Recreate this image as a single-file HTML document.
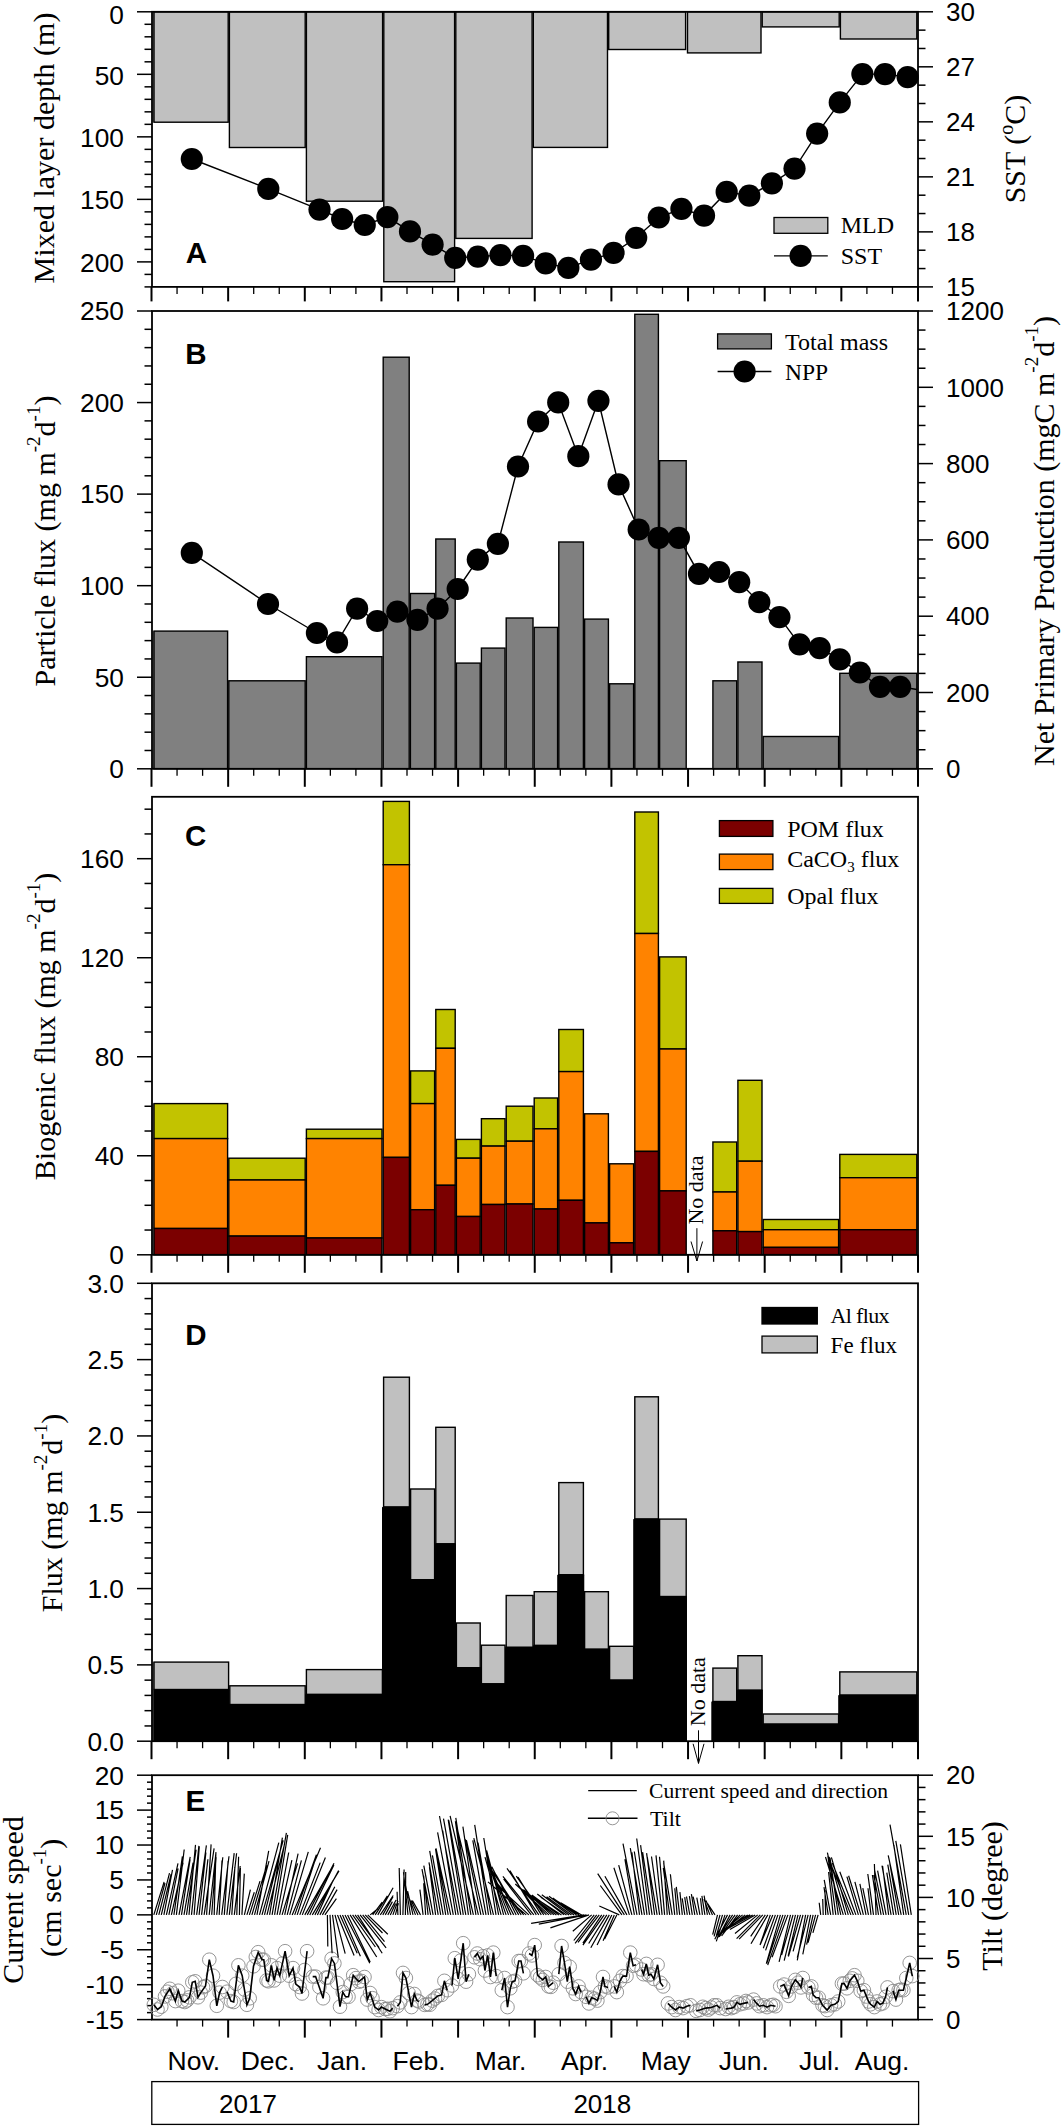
<!DOCTYPE html>
<html><head><meta charset="utf-8"><title>Figure</title>
<style>html,body{margin:0;padding:0;background:#fff;} svg{display:block;}</style>
</head><body>
<svg width="1063" height="2128" viewBox="0 0 1063 2128">
<rect x="0" y="0" width="1063" height="2128" fill="#fff"/>
<rect x="152.3" y="11.80" width="2.2" height="110.40" fill="#808080"/>
<rect x="154.00" y="11.80" width="74.20" height="110.40" fill="#c0c0c0" stroke="#000" stroke-width="1.4"/>
<rect x="229.40" y="11.80" width="75.80" height="135.70" fill="#c0c0c0" stroke="#000" stroke-width="1.4"/>
<rect x="306.40" y="11.80" width="76.20" height="189.40" fill="#c0c0c0" stroke="#000" stroke-width="1.4"/>
<rect x="383.80" y="11.80" width="70.80" height="269.90" fill="#c0c0c0" stroke="#000" stroke-width="1.4"/>
<rect x="455.80" y="11.80" width="76.30" height="226.60" fill="#c0c0c0" stroke="#000" stroke-width="1.4"/>
<rect x="533.30" y="11.80" width="74.20" height="135.60" fill="#c0c0c0" stroke="#000" stroke-width="1.4"/>
<rect x="608.70" y="11.80" width="76.90" height="37.70" fill="#c0c0c0" stroke="#000" stroke-width="1.4"/>
<rect x="687.50" y="11.80" width="73.50" height="41.10" fill="#c0c0c0" stroke="#000" stroke-width="1.4"/>
<rect x="762.20" y="11.80" width="77.00" height="15.10" fill="#c0c0c0" stroke="#000" stroke-width="1.4"/>
<rect x="840.40" y="11.80" width="76.40" height="27.20" fill="#c0c0c0" stroke="#000" stroke-width="1.4"/>
<polyline points="191.8,159.0 268.3,188.9 319.5,209.6 342.1,219.0 364.7,225.0 387.4,217.1 410.0,231.4 432.6,244.6 455.2,257.8 477.8,256.6 500.5,255.1 523.1,255.9 545.7,263.4 568.3,267.9 590.9,259.6 613.6,252.9 636.2,237.8 658.8,217.5 681.4,208.8 704.0,215.6 726.7,191.9 749.3,195.7 771.9,183.3 794.5,168.6 817.1,133.6 839.8,102.4 862.4,74.1 885.0,74.1 907.6,77.1" fill="none" stroke="#000" stroke-width="1.4"/>
<circle cx="191.80" cy="159.00" r="11.1" fill="#000"/>
<circle cx="268.30" cy="188.90" r="11.1" fill="#000"/>
<circle cx="319.50" cy="209.60" r="11.1" fill="#000"/>
<circle cx="342.12" cy="219.00" r="11.1" fill="#000"/>
<circle cx="364.74" cy="225.00" r="11.1" fill="#000"/>
<circle cx="387.36" cy="217.10" r="11.1" fill="#000"/>
<circle cx="409.98" cy="231.40" r="11.1" fill="#000"/>
<circle cx="432.60" cy="244.60" r="11.1" fill="#000"/>
<circle cx="455.22" cy="257.80" r="11.1" fill="#000"/>
<circle cx="477.84" cy="256.60" r="11.1" fill="#000"/>
<circle cx="500.46" cy="255.10" r="11.1" fill="#000"/>
<circle cx="523.08" cy="255.90" r="11.1" fill="#000"/>
<circle cx="545.70" cy="263.40" r="11.1" fill="#000"/>
<circle cx="568.32" cy="267.90" r="11.1" fill="#000"/>
<circle cx="590.94" cy="259.60" r="11.1" fill="#000"/>
<circle cx="613.56" cy="252.90" r="11.1" fill="#000"/>
<circle cx="636.18" cy="237.80" r="11.1" fill="#000"/>
<circle cx="658.80" cy="217.50" r="11.1" fill="#000"/>
<circle cx="681.42" cy="208.80" r="11.1" fill="#000"/>
<circle cx="704.04" cy="215.60" r="11.1" fill="#000"/>
<circle cx="726.66" cy="191.90" r="11.1" fill="#000"/>
<circle cx="749.28" cy="195.70" r="11.1" fill="#000"/>
<circle cx="771.90" cy="183.30" r="11.1" fill="#000"/>
<circle cx="794.52" cy="168.60" r="11.1" fill="#000"/>
<circle cx="817.14" cy="133.60" r="11.1" fill="#000"/>
<circle cx="839.76" cy="102.40" r="11.1" fill="#000"/>
<circle cx="862.38" cy="74.10" r="11.1" fill="#000"/>
<circle cx="885.00" cy="74.10" r="11.1" fill="#000"/>
<circle cx="907.62" cy="77.10" r="11.1" fill="#000"/>
<rect x="152.00" y="11.80" width="766.00" height="275.10" fill="none" stroke="#000" stroke-width="1.8"/>
<line x1="151.50" y1="286.90" x2="151.50" y2="301.40" stroke="#000" stroke-width="2.0" />
<line x1="177.05" y1="286.90" x2="177.05" y2="293.90" stroke="#000" stroke-width="1.3" />
<line x1="202.60" y1="286.90" x2="202.60" y2="293.90" stroke="#000" stroke-width="1.3" />
<line x1="228.15" y1="286.90" x2="228.15" y2="301.40" stroke="#000" stroke-width="2.0" />
<line x1="253.70" y1="286.90" x2="253.70" y2="293.90" stroke="#000" stroke-width="1.3" />
<line x1="279.25" y1="286.90" x2="279.25" y2="293.90" stroke="#000" stroke-width="1.3" />
<line x1="304.80" y1="286.90" x2="304.80" y2="301.40" stroke="#000" stroke-width="2.0" />
<line x1="330.35" y1="286.90" x2="330.35" y2="293.90" stroke="#000" stroke-width="1.3" />
<line x1="355.90" y1="286.90" x2="355.90" y2="293.90" stroke="#000" stroke-width="1.3" />
<line x1="381.45" y1="286.90" x2="381.45" y2="301.40" stroke="#000" stroke-width="2.0" />
<line x1="407.00" y1="286.90" x2="407.00" y2="293.90" stroke="#000" stroke-width="1.3" />
<line x1="432.55" y1="286.90" x2="432.55" y2="293.90" stroke="#000" stroke-width="1.3" />
<line x1="458.10" y1="286.90" x2="458.10" y2="301.40" stroke="#000" stroke-width="2.0" />
<line x1="483.65" y1="286.90" x2="483.65" y2="293.90" stroke="#000" stroke-width="1.3" />
<line x1="509.20" y1="286.90" x2="509.20" y2="293.90" stroke="#000" stroke-width="1.3" />
<line x1="534.75" y1="286.90" x2="534.75" y2="301.40" stroke="#000" stroke-width="2.0" />
<line x1="560.30" y1="286.90" x2="560.30" y2="293.90" stroke="#000" stroke-width="1.3" />
<line x1="585.85" y1="286.90" x2="585.85" y2="293.90" stroke="#000" stroke-width="1.3" />
<line x1="611.40" y1="286.90" x2="611.40" y2="301.40" stroke="#000" stroke-width="2.0" />
<line x1="636.95" y1="286.90" x2="636.95" y2="293.90" stroke="#000" stroke-width="1.3" />
<line x1="662.50" y1="286.90" x2="662.50" y2="293.90" stroke="#000" stroke-width="1.3" />
<line x1="688.05" y1="286.90" x2="688.05" y2="301.40" stroke="#000" stroke-width="2.0" />
<line x1="713.60" y1="286.90" x2="713.60" y2="293.90" stroke="#000" stroke-width="1.3" />
<line x1="739.15" y1="286.90" x2="739.15" y2="293.90" stroke="#000" stroke-width="1.3" />
<line x1="764.70" y1="286.90" x2="764.70" y2="301.40" stroke="#000" stroke-width="2.0" />
<line x1="790.25" y1="286.90" x2="790.25" y2="293.90" stroke="#000" stroke-width="1.3" />
<line x1="815.80" y1="286.90" x2="815.80" y2="293.90" stroke="#000" stroke-width="1.3" />
<line x1="841.35" y1="286.90" x2="841.35" y2="301.40" stroke="#000" stroke-width="2.0" />
<line x1="866.90" y1="286.90" x2="866.90" y2="293.90" stroke="#000" stroke-width="1.3" />
<line x1="892.45" y1="286.90" x2="892.45" y2="293.90" stroke="#000" stroke-width="1.3" />
<line x1="918.00" y1="286.90" x2="918.00" y2="301.40" stroke="#000" stroke-width="2.0" />
<line x1="137.00" y1="11.80" x2="152.00" y2="11.80" stroke="#000" stroke-width="1.5" />
<text x="124.00" y="24.41" font-family='"Liberation Sans", sans-serif' font-size="26.3" text-anchor="end" font-weight="normal" >0</text>
<line x1="144.50" y1="24.30" x2="152.00" y2="24.30" stroke="#000" stroke-width="1.5" />
<line x1="144.50" y1="36.81" x2="152.00" y2="36.81" stroke="#000" stroke-width="1.5" />
<line x1="144.50" y1="49.31" x2="152.00" y2="49.31" stroke="#000" stroke-width="1.5" />
<line x1="144.50" y1="61.82" x2="152.00" y2="61.82" stroke="#000" stroke-width="1.5" />
<line x1="137.00" y1="74.32" x2="152.00" y2="74.32" stroke="#000" stroke-width="1.5" />
<text x="124.00" y="85.13" font-family='"Liberation Sans", sans-serif' font-size="26.3" text-anchor="end" font-weight="normal" >50</text>
<line x1="144.50" y1="86.83" x2="152.00" y2="86.83" stroke="#000" stroke-width="1.5" />
<line x1="144.50" y1="99.33" x2="152.00" y2="99.33" stroke="#000" stroke-width="1.5" />
<line x1="144.50" y1="111.84" x2="152.00" y2="111.84" stroke="#000" stroke-width="1.5" />
<line x1="144.50" y1="124.34" x2="152.00" y2="124.34" stroke="#000" stroke-width="1.5" />
<line x1="137.00" y1="136.85" x2="152.00" y2="136.85" stroke="#000" stroke-width="1.5" />
<text x="124.00" y="146.96" font-family='"Liberation Sans", sans-serif' font-size="26.3" text-anchor="end" font-weight="normal" >100</text>
<line x1="144.50" y1="149.35" x2="152.00" y2="149.35" stroke="#000" stroke-width="1.5" />
<line x1="144.50" y1="161.85" x2="152.00" y2="161.85" stroke="#000" stroke-width="1.5" />
<line x1="144.50" y1="174.36" x2="152.00" y2="174.36" stroke="#000" stroke-width="1.5" />
<line x1="144.50" y1="186.86" x2="152.00" y2="186.86" stroke="#000" stroke-width="1.5" />
<line x1="137.00" y1="199.37" x2="152.00" y2="199.37" stroke="#000" stroke-width="1.5" />
<text x="124.00" y="209.48" font-family='"Liberation Sans", sans-serif' font-size="26.3" text-anchor="end" font-weight="normal" >150</text>
<line x1="144.50" y1="211.87" x2="152.00" y2="211.87" stroke="#000" stroke-width="1.5" />
<line x1="144.50" y1="224.38" x2="152.00" y2="224.38" stroke="#000" stroke-width="1.5" />
<line x1="144.50" y1="236.88" x2="152.00" y2="236.88" stroke="#000" stroke-width="1.5" />
<line x1="144.50" y1="249.39" x2="152.00" y2="249.39" stroke="#000" stroke-width="1.5" />
<line x1="137.00" y1="261.89" x2="152.00" y2="261.89" stroke="#000" stroke-width="1.5" />
<text x="124.00" y="272.00" font-family='"Liberation Sans", sans-serif' font-size="26.3" text-anchor="end" font-weight="normal" >200</text>
<line x1="144.50" y1="274.40" x2="152.00" y2="274.40" stroke="#000" stroke-width="1.5" />
<line x1="144.50" y1="286.90" x2="152.00" y2="286.90" stroke="#000" stroke-width="1.5" />
<line x1="918.00" y1="286.90" x2="933.00" y2="286.90" stroke="#000" stroke-width="1.5" />
<text x="946.00" y="296.10" font-family='"Liberation Sans", sans-serif' font-size="26" text-anchor="start" font-weight="normal" >15</text>
<line x1="918.00" y1="268.56" x2="925.50" y2="268.56" stroke="#000" stroke-width="1.5" />
<line x1="918.00" y1="250.22" x2="925.50" y2="250.22" stroke="#000" stroke-width="1.5" />
<line x1="918.00" y1="231.88" x2="933.00" y2="231.88" stroke="#000" stroke-width="1.5" />
<text x="946.00" y="241.08" font-family='"Liberation Sans", sans-serif' font-size="26" text-anchor="start" font-weight="normal" >18</text>
<line x1="918.00" y1="213.54" x2="925.50" y2="213.54" stroke="#000" stroke-width="1.5" />
<line x1="918.00" y1="195.20" x2="925.50" y2="195.20" stroke="#000" stroke-width="1.5" />
<line x1="918.00" y1="176.86" x2="933.00" y2="176.86" stroke="#000" stroke-width="1.5" />
<text x="946.00" y="186.06" font-family='"Liberation Sans", sans-serif' font-size="26" text-anchor="start" font-weight="normal" >21</text>
<line x1="918.00" y1="158.52" x2="925.50" y2="158.52" stroke="#000" stroke-width="1.5" />
<line x1="918.00" y1="140.18" x2="925.50" y2="140.18" stroke="#000" stroke-width="1.5" />
<line x1="918.00" y1="121.84" x2="933.00" y2="121.84" stroke="#000" stroke-width="1.5" />
<text x="946.00" y="131.04" font-family='"Liberation Sans", sans-serif' font-size="26" text-anchor="start" font-weight="normal" >24</text>
<line x1="918.00" y1="103.50" x2="925.50" y2="103.50" stroke="#000" stroke-width="1.5" />
<line x1="918.00" y1="85.16" x2="925.50" y2="85.16" stroke="#000" stroke-width="1.5" />
<line x1="918.00" y1="66.82" x2="933.00" y2="66.82" stroke="#000" stroke-width="1.5" />
<text x="946.00" y="76.02" font-family='"Liberation Sans", sans-serif' font-size="26" text-anchor="start" font-weight="normal" >27</text>
<line x1="918.00" y1="48.48" x2="925.50" y2="48.48" stroke="#000" stroke-width="1.5" />
<line x1="918.00" y1="30.14" x2="925.50" y2="30.14" stroke="#000" stroke-width="1.5" />
<line x1="918.00" y1="11.80" x2="933.00" y2="11.80" stroke="#000" stroke-width="1.5" />
<text x="946.00" y="21.00" font-family='"Liberation Sans", sans-serif' font-size="26" text-anchor="start" font-weight="normal" >30</text>
<rect x="774.00" y="217.50" width="53.80" height="15.80" fill="#c0c0c0" stroke="#000" stroke-width="1.3"/>
<text x="840.70" y="233.30" font-family='"Liberation Serif", serif' font-size="24" text-anchor="start" font-weight="normal" >MLD</text>
<line x1="774.00" y1="255.90" x2="827.80" y2="255.90" stroke="#000" stroke-width="1.4" />
<circle cx="800.60" cy="255.90" r="11.1" fill="#000"/>
<text x="840.70" y="264.00" font-family='"Liberation Serif", serif' font-size="24" text-anchor="start" font-weight="normal" >SST</text>
<text x="185.80" y="263.10" font-family='"Liberation Sans", sans-serif' font-size="29.5" text-anchor="start" font-weight="bold" >A</text>
<text transform="translate(53.80,148.00) rotate(-90)" font-family='"Liberation Serif", serif' font-size="30" text-anchor="middle" >Mixed layer depth (m)</text>
<text transform="translate(1025.00,149.00) rotate(-90)" font-family='"Liberation Serif", serif' font-size="30" text-anchor="middle" >SST (<tspan dy="-12" font-size="20">o</tspan><tspan dy="12">C)</tspan></text>
<rect x="152.3" y="631.10" width="2.2" height="137.70" fill="#808080"/>
<rect x="154.00" y="631.10" width="73.60" height="137.70" fill="#808080" stroke="#000" stroke-width="1.4"/>
<rect x="228.80" y="680.80" width="76.40" height="88.00" fill="#808080" stroke="#000" stroke-width="1.4"/>
<rect x="306.40" y="656.70" width="75.60" height="112.10" fill="#808080" stroke="#000" stroke-width="1.4"/>
<rect x="383.20" y="357.20" width="26.00" height="411.60" fill="#808080" stroke="#000" stroke-width="1.4"/>
<rect x="410.40" y="593.50" width="24.20" height="175.30" fill="#808080" stroke="#000" stroke-width="1.4"/>
<rect x="435.80" y="539.00" width="19.40" height="229.80" fill="#808080" stroke="#000" stroke-width="1.4"/>
<rect x="456.40" y="663.10" width="23.80" height="105.70" fill="#808080" stroke="#000" stroke-width="1.4"/>
<rect x="481.40" y="648.10" width="23.60" height="120.70" fill="#808080" stroke="#000" stroke-width="1.4"/>
<rect x="506.20" y="618.00" width="26.80" height="150.80" fill="#808080" stroke="#000" stroke-width="1.4"/>
<rect x="534.20" y="627.40" width="23.40" height="141.40" fill="#808080" stroke="#000" stroke-width="1.4"/>
<rect x="558.80" y="542.00" width="24.60" height="226.80" fill="#808080" stroke="#000" stroke-width="1.4"/>
<rect x="584.60" y="619.10" width="23.80" height="149.70" fill="#808080" stroke="#000" stroke-width="1.4"/>
<rect x="609.60" y="683.80" width="24.00" height="85.00" fill="#808080" stroke="#000" stroke-width="1.4"/>
<rect x="634.80" y="314.30" width="23.60" height="454.50" fill="#808080" stroke="#000" stroke-width="1.4"/>
<rect x="659.60" y="460.70" width="26.60" height="308.10" fill="#808080" stroke="#000" stroke-width="1.4"/>
<rect x="712.90" y="680.80" width="23.80" height="88.00" fill="#808080" stroke="#000" stroke-width="1.4"/>
<rect x="737.90" y="662.00" width="24.10" height="106.80" fill="#808080" stroke="#000" stroke-width="1.4"/>
<rect x="763.20" y="736.50" width="75.40" height="32.30" fill="#808080" stroke="#000" stroke-width="1.4"/>
<rect x="839.80" y="673.30" width="77.00" height="95.50" fill="#808080" stroke="#000" stroke-width="1.4"/>
<polyline points="191.8,552.9 268.0,604.0 316.9,633.0 337.0,642.4 357.1,608.6 377.2,621.0 397.3,611.6 417.4,619.8 437.6,608.6 457.7,589.0 477.8,559.6 497.9,543.8 518.0,466.5 538.1,421.5 558.2,402.4 578.3,456.2 598.4,400.8 618.5,484.4 638.7,529.5 658.8,537.8 678.9,537.8 699.0,573.9 719.1,572.0 739.2,582.2 759.3,602.2 779.4,617.2 799.5,644.3 819.6,648.1 839.8,659.4 859.9,672.5 880.0,686.8 900.1,686.8 917,689.5" fill="none" stroke="#000" stroke-width="1.4"/>
<circle cx="191.80" cy="552.90" r="11.1" fill="#000"/>
<circle cx="268.00" cy="604.00" r="11.1" fill="#000"/>
<circle cx="316.90" cy="633.00" r="11.1" fill="#000"/>
<circle cx="337.01" cy="642.40" r="11.1" fill="#000"/>
<circle cx="357.12" cy="608.60" r="11.1" fill="#000"/>
<circle cx="377.23" cy="621.00" r="11.1" fill="#000"/>
<circle cx="397.34" cy="611.60" r="11.1" fill="#000"/>
<circle cx="417.45" cy="619.80" r="11.1" fill="#000"/>
<circle cx="437.56" cy="608.60" r="11.1" fill="#000"/>
<circle cx="457.67" cy="589.00" r="11.1" fill="#000"/>
<circle cx="477.78" cy="559.60" r="11.1" fill="#000"/>
<circle cx="497.89" cy="543.80" r="11.1" fill="#000"/>
<circle cx="518.00" cy="466.50" r="11.1" fill="#000"/>
<circle cx="538.11" cy="421.50" r="11.1" fill="#000"/>
<circle cx="558.22" cy="402.40" r="11.1" fill="#000"/>
<circle cx="578.33" cy="456.20" r="11.1" fill="#000"/>
<circle cx="598.44" cy="400.80" r="11.1" fill="#000"/>
<circle cx="618.55" cy="484.40" r="11.1" fill="#000"/>
<circle cx="638.66" cy="529.50" r="11.1" fill="#000"/>
<circle cx="658.77" cy="537.80" r="11.1" fill="#000"/>
<circle cx="678.88" cy="537.80" r="11.1" fill="#000"/>
<circle cx="698.99" cy="573.90" r="11.1" fill="#000"/>
<circle cx="719.10" cy="572.00" r="11.1" fill="#000"/>
<circle cx="739.21" cy="582.20" r="11.1" fill="#000"/>
<circle cx="759.32" cy="602.20" r="11.1" fill="#000"/>
<circle cx="779.43" cy="617.20" r="11.1" fill="#000"/>
<circle cx="799.54" cy="644.30" r="11.1" fill="#000"/>
<circle cx="819.65" cy="648.10" r="11.1" fill="#000"/>
<circle cx="839.76" cy="659.40" r="11.1" fill="#000"/>
<circle cx="859.87" cy="672.50" r="11.1" fill="#000"/>
<circle cx="879.98" cy="686.80" r="11.1" fill="#000"/>
<circle cx="900.09" cy="686.80" r="11.1" fill="#000"/>
<rect x="152.00" y="311.00" width="766.00" height="457.80" fill="none" stroke="#000" stroke-width="1.8"/>
<line x1="151.50" y1="768.80" x2="151.50" y2="786.80" stroke="#000" stroke-width="2.0" />
<line x1="177.05" y1="768.80" x2="177.05" y2="775.80" stroke="#000" stroke-width="1.3" />
<line x1="202.60" y1="768.80" x2="202.60" y2="775.80" stroke="#000" stroke-width="1.3" />
<line x1="228.15" y1="768.80" x2="228.15" y2="786.80" stroke="#000" stroke-width="2.0" />
<line x1="253.70" y1="768.80" x2="253.70" y2="775.80" stroke="#000" stroke-width="1.3" />
<line x1="279.25" y1="768.80" x2="279.25" y2="775.80" stroke="#000" stroke-width="1.3" />
<line x1="304.80" y1="768.80" x2="304.80" y2="786.80" stroke="#000" stroke-width="2.0" />
<line x1="330.35" y1="768.80" x2="330.35" y2="775.80" stroke="#000" stroke-width="1.3" />
<line x1="355.90" y1="768.80" x2="355.90" y2="775.80" stroke="#000" stroke-width="1.3" />
<line x1="381.45" y1="768.80" x2="381.45" y2="786.80" stroke="#000" stroke-width="2.0" />
<line x1="407.00" y1="768.80" x2="407.00" y2="775.80" stroke="#000" stroke-width="1.3" />
<line x1="432.55" y1="768.80" x2="432.55" y2="775.80" stroke="#000" stroke-width="1.3" />
<line x1="458.10" y1="768.80" x2="458.10" y2="786.80" stroke="#000" stroke-width="2.0" />
<line x1="483.65" y1="768.80" x2="483.65" y2="775.80" stroke="#000" stroke-width="1.3" />
<line x1="509.20" y1="768.80" x2="509.20" y2="775.80" stroke="#000" stroke-width="1.3" />
<line x1="534.75" y1="768.80" x2="534.75" y2="786.80" stroke="#000" stroke-width="2.0" />
<line x1="560.30" y1="768.80" x2="560.30" y2="775.80" stroke="#000" stroke-width="1.3" />
<line x1="585.85" y1="768.80" x2="585.85" y2="775.80" stroke="#000" stroke-width="1.3" />
<line x1="611.40" y1="768.80" x2="611.40" y2="786.80" stroke="#000" stroke-width="2.0" />
<line x1="636.95" y1="768.80" x2="636.95" y2="775.80" stroke="#000" stroke-width="1.3" />
<line x1="662.50" y1="768.80" x2="662.50" y2="775.80" stroke="#000" stroke-width="1.3" />
<line x1="688.05" y1="768.80" x2="688.05" y2="786.80" stroke="#000" stroke-width="2.0" />
<line x1="713.60" y1="768.80" x2="713.60" y2="775.80" stroke="#000" stroke-width="1.3" />
<line x1="739.15" y1="768.80" x2="739.15" y2="775.80" stroke="#000" stroke-width="1.3" />
<line x1="764.70" y1="768.80" x2="764.70" y2="786.80" stroke="#000" stroke-width="2.0" />
<line x1="790.25" y1="768.80" x2="790.25" y2="775.80" stroke="#000" stroke-width="1.3" />
<line x1="815.80" y1="768.80" x2="815.80" y2="775.80" stroke="#000" stroke-width="1.3" />
<line x1="841.35" y1="768.80" x2="841.35" y2="786.80" stroke="#000" stroke-width="2.0" />
<line x1="866.90" y1="768.80" x2="866.90" y2="775.80" stroke="#000" stroke-width="1.3" />
<line x1="892.45" y1="768.80" x2="892.45" y2="775.80" stroke="#000" stroke-width="1.3" />
<line x1="918.00" y1="768.80" x2="918.00" y2="786.80" stroke="#000" stroke-width="2.0" />
<line x1="137.00" y1="768.80" x2="152.00" y2="768.80" stroke="#000" stroke-width="1.5" />
<text x="124.00" y="778.11" font-family='"Liberation Sans", sans-serif' font-size="26.3" text-anchor="end" font-weight="normal" >0</text>
<line x1="144.50" y1="750.49" x2="152.00" y2="750.49" stroke="#000" stroke-width="1.5" />
<line x1="144.50" y1="732.18" x2="152.00" y2="732.18" stroke="#000" stroke-width="1.5" />
<line x1="144.50" y1="713.86" x2="152.00" y2="713.86" stroke="#000" stroke-width="1.5" />
<line x1="144.50" y1="695.55" x2="152.00" y2="695.55" stroke="#000" stroke-width="1.5" />
<line x1="137.00" y1="677.24" x2="152.00" y2="677.24" stroke="#000" stroke-width="1.5" />
<text x="124.00" y="686.55" font-family='"Liberation Sans", sans-serif' font-size="26.3" text-anchor="end" font-weight="normal" >50</text>
<line x1="144.50" y1="658.93" x2="152.00" y2="658.93" stroke="#000" stroke-width="1.5" />
<line x1="144.50" y1="640.62" x2="152.00" y2="640.62" stroke="#000" stroke-width="1.5" />
<line x1="144.50" y1="622.30" x2="152.00" y2="622.30" stroke="#000" stroke-width="1.5" />
<line x1="144.50" y1="603.99" x2="152.00" y2="603.99" stroke="#000" stroke-width="1.5" />
<line x1="137.00" y1="585.68" x2="152.00" y2="585.68" stroke="#000" stroke-width="1.5" />
<text x="124.00" y="594.99" font-family='"Liberation Sans", sans-serif' font-size="26.3" text-anchor="end" font-weight="normal" >100</text>
<line x1="144.50" y1="567.37" x2="152.00" y2="567.37" stroke="#000" stroke-width="1.5" />
<line x1="144.50" y1="549.06" x2="152.00" y2="549.06" stroke="#000" stroke-width="1.5" />
<line x1="144.50" y1="530.74" x2="152.00" y2="530.74" stroke="#000" stroke-width="1.5" />
<line x1="144.50" y1="512.43" x2="152.00" y2="512.43" stroke="#000" stroke-width="1.5" />
<line x1="137.00" y1="494.12" x2="152.00" y2="494.12" stroke="#000" stroke-width="1.5" />
<text x="124.00" y="503.43" font-family='"Liberation Sans", sans-serif' font-size="26.3" text-anchor="end" font-weight="normal" >150</text>
<line x1="144.50" y1="475.81" x2="152.00" y2="475.81" stroke="#000" stroke-width="1.5" />
<line x1="144.50" y1="457.50" x2="152.00" y2="457.50" stroke="#000" stroke-width="1.5" />
<line x1="144.50" y1="439.18" x2="152.00" y2="439.18" stroke="#000" stroke-width="1.5" />
<line x1="144.50" y1="420.87" x2="152.00" y2="420.87" stroke="#000" stroke-width="1.5" />
<line x1="137.00" y1="402.56" x2="152.00" y2="402.56" stroke="#000" stroke-width="1.5" />
<text x="124.00" y="411.87" font-family='"Liberation Sans", sans-serif' font-size="26.3" text-anchor="end" font-weight="normal" >200</text>
<line x1="144.50" y1="384.25" x2="152.00" y2="384.25" stroke="#000" stroke-width="1.5" />
<line x1="144.50" y1="365.94" x2="152.00" y2="365.94" stroke="#000" stroke-width="1.5" />
<line x1="144.50" y1="347.62" x2="152.00" y2="347.62" stroke="#000" stroke-width="1.5" />
<line x1="144.50" y1="329.31" x2="152.00" y2="329.31" stroke="#000" stroke-width="1.5" />
<line x1="137.00" y1="311.00" x2="152.00" y2="311.00" stroke="#000" stroke-width="1.5" />
<text x="124.00" y="320.31" font-family='"Liberation Sans", sans-serif' font-size="26.3" text-anchor="end" font-weight="normal" >250</text>
<line x1="918.00" y1="768.80" x2="933.00" y2="768.80" stroke="#000" stroke-width="1.5" />
<text x="946.00" y="778.00" font-family='"Liberation Sans", sans-serif' font-size="26" text-anchor="start" font-weight="normal" >0</text>
<line x1="918.00" y1="749.73" x2="925.50" y2="749.73" stroke="#000" stroke-width="1.5" />
<line x1="918.00" y1="730.65" x2="925.50" y2="730.65" stroke="#000" stroke-width="1.5" />
<line x1="918.00" y1="711.57" x2="925.50" y2="711.57" stroke="#000" stroke-width="1.5" />
<line x1="918.00" y1="692.50" x2="933.00" y2="692.50" stroke="#000" stroke-width="1.5" />
<text x="946.00" y="701.70" font-family='"Liberation Sans", sans-serif' font-size="26" text-anchor="start" font-weight="normal" >200</text>
<line x1="918.00" y1="673.42" x2="925.50" y2="673.42" stroke="#000" stroke-width="1.5" />
<line x1="918.00" y1="654.35" x2="925.50" y2="654.35" stroke="#000" stroke-width="1.5" />
<line x1="918.00" y1="635.27" x2="925.50" y2="635.27" stroke="#000" stroke-width="1.5" />
<line x1="918.00" y1="616.20" x2="933.00" y2="616.20" stroke="#000" stroke-width="1.5" />
<text x="946.00" y="625.40" font-family='"Liberation Sans", sans-serif' font-size="26" text-anchor="start" font-weight="normal" >400</text>
<line x1="918.00" y1="597.12" x2="925.50" y2="597.12" stroke="#000" stroke-width="1.5" />
<line x1="918.00" y1="578.05" x2="925.50" y2="578.05" stroke="#000" stroke-width="1.5" />
<line x1="918.00" y1="558.97" x2="925.50" y2="558.97" stroke="#000" stroke-width="1.5" />
<line x1="918.00" y1="539.90" x2="933.00" y2="539.90" stroke="#000" stroke-width="1.5" />
<text x="946.00" y="549.10" font-family='"Liberation Sans", sans-serif' font-size="26" text-anchor="start" font-weight="normal" >600</text>
<line x1="918.00" y1="520.83" x2="925.50" y2="520.83" stroke="#000" stroke-width="1.5" />
<line x1="918.00" y1="501.75" x2="925.50" y2="501.75" stroke="#000" stroke-width="1.5" />
<line x1="918.00" y1="482.67" x2="925.50" y2="482.67" stroke="#000" stroke-width="1.5" />
<line x1="918.00" y1="463.60" x2="933.00" y2="463.60" stroke="#000" stroke-width="1.5" />
<text x="946.00" y="472.80" font-family='"Liberation Sans", sans-serif' font-size="26" text-anchor="start" font-weight="normal" >800</text>
<line x1="918.00" y1="444.52" x2="925.50" y2="444.52" stroke="#000" stroke-width="1.5" />
<line x1="918.00" y1="425.45" x2="925.50" y2="425.45" stroke="#000" stroke-width="1.5" />
<line x1="918.00" y1="406.38" x2="925.50" y2="406.38" stroke="#000" stroke-width="1.5" />
<line x1="918.00" y1="387.30" x2="933.00" y2="387.30" stroke="#000" stroke-width="1.5" />
<text x="946.00" y="396.50" font-family='"Liberation Sans", sans-serif' font-size="26" text-anchor="start" font-weight="normal" >1000</text>
<line x1="918.00" y1="368.23" x2="925.50" y2="368.23" stroke="#000" stroke-width="1.5" />
<line x1="918.00" y1="349.15" x2="925.50" y2="349.15" stroke="#000" stroke-width="1.5" />
<line x1="918.00" y1="330.07" x2="925.50" y2="330.07" stroke="#000" stroke-width="1.5" />
<line x1="918.00" y1="311.00" x2="933.00" y2="311.00" stroke="#000" stroke-width="1.5" />
<text x="946.00" y="320.20" font-family='"Liberation Sans", sans-serif' font-size="26" text-anchor="start" font-weight="normal" >1200</text>
<rect x="717.60" y="333.90" width="53.80" height="15.00" fill="#808080" stroke="#000" stroke-width="1.3"/>
<text x="785.00" y="349.50" font-family='"Liberation Serif", serif' font-size="24" text-anchor="start" font-weight="normal" >Total mass</text>
<line x1="717.60" y1="371.50" x2="771.40" y2="371.50" stroke="#000" stroke-width="1.4" />
<circle cx="744.60" cy="371.50" r="11.1" fill="#000"/>
<text x="785.00" y="380.00" font-family='"Liberation Serif", serif' font-size="23.5" text-anchor="start" font-weight="normal" >NPP</text>
<text x="185.20" y="364.00" font-family='"Liberation Sans", sans-serif' font-size="29.5" text-anchor="start" font-weight="bold" >B</text>
<text transform="translate(55.00,541.00) rotate(-90)" font-family='"Liberation Serif", serif' font-size="30" text-anchor="middle" >Particle flux (mg m<tspan dy="-15.5" font-size="19">-2</tspan><tspan dy="15.5">d</tspan><tspan dy="-15.5" font-size="19">-1</tspan><tspan dy="15.5">)</tspan></text>
<text transform="translate(1053.80,541.00) rotate(-90)" font-family='"Liberation Serif", serif' font-size="30" text-anchor="middle" >Net Primary Production (mgC m<tspan dy="-15.5" font-size="19">-2</tspan><tspan dy="15.5">d</tspan><tspan dy="-15.5" font-size="19">-1</tspan><tspan dy="15.5">)</tspan></text>
<rect x="152.3" y="1103.60" width="2.2" height="35.00" fill="#808080"/>
<rect x="154.00" y="1103.60" width="73.60" height="35.00" fill="#c2c300" stroke="#000" stroke-width="1.4"/>
<rect x="152.3" y="1138.60" width="2.2" height="89.90" fill="#808080"/>
<rect x="154.00" y="1138.60" width="73.60" height="89.90" fill="#ff8300" stroke="#000" stroke-width="1.4"/>
<rect x="152.3" y="1228.50" width="2.2" height="26.30" fill="#808080"/>
<rect x="154.00" y="1228.50" width="73.60" height="26.30" fill="#7b0000" stroke="#000" stroke-width="1.4"/>
<rect x="228.80" y="1158.20" width="76.40" height="21.80" fill="#c2c300" stroke="#000" stroke-width="1.4"/>
<rect x="228.80" y="1180.00" width="76.40" height="56.10" fill="#ff8300" stroke="#000" stroke-width="1.4"/>
<rect x="228.80" y="1236.10" width="76.40" height="18.70" fill="#7b0000" stroke="#000" stroke-width="1.4"/>
<rect x="306.40" y="1129.20" width="75.60" height="9.40" fill="#c2c300" stroke="#000" stroke-width="1.4"/>
<rect x="306.40" y="1138.60" width="75.60" height="99.40" fill="#ff8300" stroke="#000" stroke-width="1.4"/>
<rect x="306.40" y="1238.00" width="75.60" height="16.80" fill="#7b0000" stroke="#000" stroke-width="1.4"/>
<rect x="383.20" y="801.40" width="26.20" height="63.30" fill="#c2c300" stroke="#000" stroke-width="1.4"/>
<rect x="383.20" y="864.70" width="26.20" height="292.70" fill="#ff8300" stroke="#000" stroke-width="1.4"/>
<rect x="383.20" y="1157.40" width="26.20" height="97.40" fill="#7b0000" stroke="#000" stroke-width="1.4"/>
<rect x="410.60" y="1070.90" width="24.00" height="32.70" fill="#c2c300" stroke="#000" stroke-width="1.4"/>
<rect x="410.60" y="1103.60" width="24.00" height="106.10" fill="#ff8300" stroke="#000" stroke-width="1.4"/>
<rect x="410.60" y="1209.70" width="24.00" height="45.10" fill="#7b0000" stroke="#000" stroke-width="1.4"/>
<rect x="435.80" y="1009.50" width="19.40" height="38.80" fill="#c2c300" stroke="#000" stroke-width="1.4"/>
<rect x="435.80" y="1048.30" width="19.40" height="137.00" fill="#ff8300" stroke="#000" stroke-width="1.4"/>
<rect x="435.80" y="1185.30" width="19.40" height="69.50" fill="#7b0000" stroke="#000" stroke-width="1.4"/>
<rect x="456.40" y="1139.40" width="23.80" height="18.80" fill="#c2c300" stroke="#000" stroke-width="1.4"/>
<rect x="456.40" y="1158.20" width="23.80" height="58.30" fill="#ff8300" stroke="#000" stroke-width="1.4"/>
<rect x="456.40" y="1216.50" width="23.80" height="38.30" fill="#7b0000" stroke="#000" stroke-width="1.4"/>
<rect x="481.40" y="1118.70" width="23.60" height="27.40" fill="#c2c300" stroke="#000" stroke-width="1.4"/>
<rect x="481.40" y="1146.10" width="23.60" height="58.40" fill="#ff8300" stroke="#000" stroke-width="1.4"/>
<rect x="481.40" y="1204.50" width="23.60" height="50.30" fill="#7b0000" stroke="#000" stroke-width="1.4"/>
<rect x="506.20" y="1106.20" width="26.80" height="35.00" fill="#c2c300" stroke="#000" stroke-width="1.4"/>
<rect x="506.20" y="1141.20" width="26.80" height="62.80" fill="#ff8300" stroke="#000" stroke-width="1.4"/>
<rect x="506.20" y="1204.00" width="26.80" height="50.80" fill="#7b0000" stroke="#000" stroke-width="1.4"/>
<rect x="534.20" y="1098.00" width="23.40" height="30.80" fill="#c2c300" stroke="#000" stroke-width="1.4"/>
<rect x="534.20" y="1128.80" width="23.40" height="80.20" fill="#ff8300" stroke="#000" stroke-width="1.4"/>
<rect x="534.20" y="1209.00" width="23.40" height="45.80" fill="#7b0000" stroke="#000" stroke-width="1.4"/>
<rect x="558.80" y="1029.50" width="24.60" height="42.10" fill="#c2c300" stroke="#000" stroke-width="1.4"/>
<rect x="558.80" y="1071.60" width="24.60" height="128.70" fill="#ff8300" stroke="#000" stroke-width="1.4"/>
<rect x="558.80" y="1200.30" width="24.60" height="54.50" fill="#7b0000" stroke="#000" stroke-width="1.4"/>
<rect x="584.60" y="1113.80" width="23.80" height="109.10" fill="#ff8300" stroke="#000" stroke-width="1.4"/>
<rect x="584.60" y="1222.90" width="23.80" height="31.90" fill="#7b0000" stroke="#000" stroke-width="1.4"/>
<rect x="609.60" y="1163.80" width="24.00" height="79.00" fill="#ff8300" stroke="#000" stroke-width="1.4"/>
<rect x="609.60" y="1242.80" width="24.00" height="12.00" fill="#7b0000" stroke="#000" stroke-width="1.4"/>
<rect x="634.80" y="812.00" width="23.60" height="121.50" fill="#c2c300" stroke="#000" stroke-width="1.4"/>
<rect x="634.80" y="933.50" width="23.60" height="217.90" fill="#ff8300" stroke="#000" stroke-width="1.4"/>
<rect x="634.80" y="1151.40" width="23.60" height="103.40" fill="#7b0000" stroke="#000" stroke-width="1.4"/>
<rect x="659.60" y="956.90" width="26.60" height="92.10" fill="#c2c300" stroke="#000" stroke-width="1.4"/>
<rect x="659.60" y="1049.00" width="26.60" height="141.90" fill="#ff8300" stroke="#000" stroke-width="1.4"/>
<rect x="659.60" y="1190.90" width="26.60" height="63.90" fill="#7b0000" stroke="#000" stroke-width="1.4"/>
<rect x="712.90" y="1142.00" width="23.80" height="50.00" fill="#c2c300" stroke="#000" stroke-width="1.4"/>
<rect x="712.90" y="1192.00" width="23.80" height="38.80" fill="#ff8300" stroke="#000" stroke-width="1.4"/>
<rect x="712.90" y="1230.80" width="23.80" height="24.00" fill="#7b0000" stroke="#000" stroke-width="1.4"/>
<rect x="737.90" y="1080.30" width="24.10" height="80.90" fill="#c2c300" stroke="#000" stroke-width="1.4"/>
<rect x="737.90" y="1161.20" width="24.10" height="70.40" fill="#ff8300" stroke="#000" stroke-width="1.4"/>
<rect x="737.90" y="1231.60" width="24.10" height="23.20" fill="#7b0000" stroke="#000" stroke-width="1.4"/>
<rect x="763.20" y="1219.50" width="75.40" height="10.20" fill="#c2c300" stroke="#000" stroke-width="1.4"/>
<rect x="763.20" y="1229.70" width="75.40" height="17.70" fill="#ff8300" stroke="#000" stroke-width="1.4"/>
<rect x="763.20" y="1247.40" width="75.40" height="7.40" fill="#7b0000" stroke="#000" stroke-width="1.4"/>
<rect x="839.80" y="1154.40" width="77.00" height="23.30" fill="#c2c300" stroke="#000" stroke-width="1.4"/>
<rect x="839.80" y="1177.70" width="77.00" height="52.00" fill="#ff8300" stroke="#000" stroke-width="1.4"/>
<rect x="839.80" y="1229.70" width="77.00" height="25.10" fill="#7b0000" stroke="#000" stroke-width="1.4"/>
<rect x="152.00" y="796.80" width="766.00" height="458.00" fill="none" stroke="#000" stroke-width="1.8"/>
<line x1="151.50" y1="1254.80" x2="151.50" y2="1272.80" stroke="#000" stroke-width="2.0" />
<line x1="177.05" y1="1254.80" x2="177.05" y2="1261.80" stroke="#000" stroke-width="1.3" />
<line x1="202.60" y1="1254.80" x2="202.60" y2="1261.80" stroke="#000" stroke-width="1.3" />
<line x1="228.15" y1="1254.80" x2="228.15" y2="1272.80" stroke="#000" stroke-width="2.0" />
<line x1="253.70" y1="1254.80" x2="253.70" y2="1261.80" stroke="#000" stroke-width="1.3" />
<line x1="279.25" y1="1254.80" x2="279.25" y2="1261.80" stroke="#000" stroke-width="1.3" />
<line x1="304.80" y1="1254.80" x2="304.80" y2="1272.80" stroke="#000" stroke-width="2.0" />
<line x1="330.35" y1="1254.80" x2="330.35" y2="1261.80" stroke="#000" stroke-width="1.3" />
<line x1="355.90" y1="1254.80" x2="355.90" y2="1261.80" stroke="#000" stroke-width="1.3" />
<line x1="381.45" y1="1254.80" x2="381.45" y2="1272.80" stroke="#000" stroke-width="2.0" />
<line x1="407.00" y1="1254.80" x2="407.00" y2="1261.80" stroke="#000" stroke-width="1.3" />
<line x1="432.55" y1="1254.80" x2="432.55" y2="1261.80" stroke="#000" stroke-width="1.3" />
<line x1="458.10" y1="1254.80" x2="458.10" y2="1272.80" stroke="#000" stroke-width="2.0" />
<line x1="483.65" y1="1254.80" x2="483.65" y2="1261.80" stroke="#000" stroke-width="1.3" />
<line x1="509.20" y1="1254.80" x2="509.20" y2="1261.80" stroke="#000" stroke-width="1.3" />
<line x1="534.75" y1="1254.80" x2="534.75" y2="1272.80" stroke="#000" stroke-width="2.0" />
<line x1="560.30" y1="1254.80" x2="560.30" y2="1261.80" stroke="#000" stroke-width="1.3" />
<line x1="585.85" y1="1254.80" x2="585.85" y2="1261.80" stroke="#000" stroke-width="1.3" />
<line x1="611.40" y1="1254.80" x2="611.40" y2="1272.80" stroke="#000" stroke-width="2.0" />
<line x1="636.95" y1="1254.80" x2="636.95" y2="1261.80" stroke="#000" stroke-width="1.3" />
<line x1="662.50" y1="1254.80" x2="662.50" y2="1261.80" stroke="#000" stroke-width="1.3" />
<line x1="688.05" y1="1254.80" x2="688.05" y2="1272.80" stroke="#000" stroke-width="2.0" />
<line x1="713.60" y1="1254.80" x2="713.60" y2="1261.80" stroke="#000" stroke-width="1.3" />
<line x1="739.15" y1="1254.80" x2="739.15" y2="1261.80" stroke="#000" stroke-width="1.3" />
<line x1="764.70" y1="1254.80" x2="764.70" y2="1272.80" stroke="#000" stroke-width="2.0" />
<line x1="790.25" y1="1254.80" x2="790.25" y2="1261.80" stroke="#000" stroke-width="1.3" />
<line x1="815.80" y1="1254.80" x2="815.80" y2="1261.80" stroke="#000" stroke-width="1.3" />
<line x1="841.35" y1="1254.80" x2="841.35" y2="1272.80" stroke="#000" stroke-width="2.0" />
<line x1="866.90" y1="1254.80" x2="866.90" y2="1261.80" stroke="#000" stroke-width="1.3" />
<line x1="892.45" y1="1254.80" x2="892.45" y2="1261.80" stroke="#000" stroke-width="1.3" />
<line x1="918.00" y1="1254.80" x2="918.00" y2="1272.80" stroke="#000" stroke-width="2.0" />
<line x1="137.00" y1="1254.80" x2="152.00" y2="1254.80" stroke="#000" stroke-width="1.5" />
<text x="124.00" y="1264.11" font-family='"Liberation Sans", sans-serif' font-size="26.3" text-anchor="end" font-weight="normal" >0</text>
<line x1="144.50" y1="1230.04" x2="152.00" y2="1230.04" stroke="#000" stroke-width="1.5" />
<line x1="144.50" y1="1205.29" x2="152.00" y2="1205.29" stroke="#000" stroke-width="1.5" />
<line x1="144.50" y1="1180.53" x2="152.00" y2="1180.53" stroke="#000" stroke-width="1.5" />
<line x1="137.00" y1="1155.77" x2="152.00" y2="1155.77" stroke="#000" stroke-width="1.5" />
<text x="124.00" y="1165.08" font-family='"Liberation Sans", sans-serif' font-size="26.3" text-anchor="end" font-weight="normal" >40</text>
<line x1="144.50" y1="1131.02" x2="152.00" y2="1131.02" stroke="#000" stroke-width="1.5" />
<line x1="144.50" y1="1106.26" x2="152.00" y2="1106.26" stroke="#000" stroke-width="1.5" />
<line x1="144.50" y1="1081.50" x2="152.00" y2="1081.50" stroke="#000" stroke-width="1.5" />
<line x1="137.00" y1="1056.75" x2="152.00" y2="1056.75" stroke="#000" stroke-width="1.5" />
<text x="124.00" y="1066.06" font-family='"Liberation Sans", sans-serif' font-size="26.3" text-anchor="end" font-weight="normal" >80</text>
<line x1="144.50" y1="1031.99" x2="152.00" y2="1031.99" stroke="#000" stroke-width="1.5" />
<line x1="144.50" y1="1007.23" x2="152.00" y2="1007.23" stroke="#000" stroke-width="1.5" />
<line x1="144.50" y1="982.48" x2="152.00" y2="982.48" stroke="#000" stroke-width="1.5" />
<line x1="137.00" y1="957.72" x2="152.00" y2="957.72" stroke="#000" stroke-width="1.5" />
<text x="124.00" y="967.03" font-family='"Liberation Sans", sans-serif' font-size="26.3" text-anchor="end" font-weight="normal" >120</text>
<line x1="144.50" y1="932.96" x2="152.00" y2="932.96" stroke="#000" stroke-width="1.5" />
<line x1="144.50" y1="908.21" x2="152.00" y2="908.21" stroke="#000" stroke-width="1.5" />
<line x1="144.50" y1="883.45" x2="152.00" y2="883.45" stroke="#000" stroke-width="1.5" />
<line x1="137.00" y1="858.69" x2="152.00" y2="858.69" stroke="#000" stroke-width="1.5" />
<text x="124.00" y="868.00" font-family='"Liberation Sans", sans-serif' font-size="26.3" text-anchor="end" font-weight="normal" >160</text>
<line x1="144.50" y1="833.94" x2="152.00" y2="833.94" stroke="#000" stroke-width="1.5" />
<line x1="144.50" y1="809.18" x2="152.00" y2="809.18" stroke="#000" stroke-width="1.5" />
<rect x="719.40" y="820.60" width="53.50" height="15.80" fill="#7b0000" stroke="#000" stroke-width="1.3"/>
<rect x="719.40" y="854.10" width="53.50" height="15.50" fill="#ff8300" stroke="#000" stroke-width="1.3"/>
<rect x="719.40" y="888.40" width="53.50" height="15.00" fill="#c2c300" stroke="#000" stroke-width="1.3"/>
<text x="787.20" y="836.50" font-family='"Liberation Serif", serif' font-size="24" text-anchor="start" font-weight="normal" >POM flux</text>
<text x="787.20" y="866.50" font-family='"Liberation Serif", serif' font-size="24" text-anchor="start" font-weight="normal" >CaCO<tspan dy="5" font-size="15">3</tspan><tspan dy="-5"> flux</tspan></text>
<text x="787.20" y="904.00" font-family='"Liberation Serif", serif' font-size="24" text-anchor="start" font-weight="normal" >Opal flux</text>
<text x="185.00" y="845.80" font-family='"Liberation Sans", sans-serif' font-size="29.5" text-anchor="start" font-weight="bold" >C</text>
<text transform="translate(55.00,1026.50) rotate(-90)" font-family='"Liberation Serif", serif' font-size="30" text-anchor="middle" >Biogenic flux (mg m<tspan dy="-15.5" font-size="19">-2</tspan><tspan dy="15.5">d</tspan><tspan dy="-15.5" font-size="19">-1</tspan><tspan dy="15.5">)</tspan></text>
<text transform="translate(702.60,1190.00) rotate(-90)" font-family='"Liberation Serif", serif' font-size="22" text-anchor="middle" >No data</text>
<line x1="696.90" y1="1228.20" x2="696.90" y2="1261.00" stroke="#000" stroke-width="1.0" />
<polyline points="691,1241.5 696.9,1261 702.6,1241.5" fill="none" stroke="#000" stroke-width="1.0"/>
<rect x="152.40" y="1689.60" width="77.00" height="51.60" fill="#000"/>
<rect x="228.20" y="1704.60" width="77.80" height="36.60" fill="#000"/>
<rect x="304.80" y="1694.50" width="78.40" height="46.70" fill="#000"/>
<rect x="382.00" y="1507.10" width="28.20" height="234.10" fill="#000"/>
<rect x="409.00" y="1579.70" width="26.40" height="161.50" fill="#000"/>
<rect x="434.20" y="1543.90" width="21.80" height="197.30" fill="#000"/>
<rect x="454.80" y="1667.70" width="26.20" height="73.50" fill="#000"/>
<rect x="479.80" y="1683.90" width="26.00" height="57.30" fill="#000"/>
<rect x="504.60" y="1647.40" width="29.20" height="93.80" fill="#000"/>
<rect x="532.60" y="1645.50" width="25.80" height="95.70" fill="#000"/>
<rect x="557.20" y="1574.80" width="27.00" height="166.40" fill="#000"/>
<rect x="583.00" y="1649.30" width="26.20" height="91.90" fill="#000"/>
<rect x="608.00" y="1680.20" width="26.40" height="61.00" fill="#000"/>
<rect x="633.20" y="1519.10" width="26.00" height="222.10" fill="#000"/>
<rect x="658.00" y="1596.60" width="29.00" height="144.60" fill="#000"/>
<rect x="711.30" y="1701.60" width="26.20" height="39.60" fill="#000"/>
<rect x="736.30" y="1690.30" width="26.50" height="50.90" fill="#000"/>
<rect x="761.60" y="1724.20" width="77.80" height="17.00" fill="#000"/>
<rect x="838.20" y="1695.20" width="79.40" height="46.00" fill="#000"/>
<rect x="152.3" y="1662.10" width="2.2" height="27.50" fill="#808080"/>
<rect x="154.00" y="1662.10" width="74.60" height="27.50" fill="#c0c0c0" stroke="#000" stroke-width="1.4"/>
<rect x="152.3" y="1689.60" width="2.2" height="51.60" fill="#808080"/>
<rect x="154.00" y="1689.60" width="74.60" height="51.60" fill="#000" stroke="#000" stroke-width="1.4"/>
<rect x="229.80" y="1685.80" width="75.40" height="18.80" fill="#c0c0c0" stroke="#000" stroke-width="1.4"/>
<rect x="229.80" y="1704.60" width="75.40" height="36.60" fill="#000" stroke="#000" stroke-width="1.4"/>
<rect x="306.40" y="1669.60" width="76.00" height="24.90" fill="#c0c0c0" stroke="#000" stroke-width="1.4"/>
<rect x="306.40" y="1694.50" width="76.00" height="46.70" fill="#000" stroke="#000" stroke-width="1.4"/>
<rect x="383.60" y="1377.20" width="25.80" height="129.90" fill="#c0c0c0" stroke="#000" stroke-width="1.4"/>
<rect x="383.60" y="1507.10" width="25.80" height="234.10" fill="#000" stroke="#000" stroke-width="1.4"/>
<rect x="410.60" y="1489.00" width="24.00" height="90.70" fill="#c0c0c0" stroke="#000" stroke-width="1.4"/>
<rect x="410.60" y="1579.70" width="24.00" height="161.50" fill="#000" stroke="#000" stroke-width="1.4"/>
<rect x="435.80" y="1427.30" width="19.40" height="116.60" fill="#c0c0c0" stroke="#000" stroke-width="1.4"/>
<rect x="435.80" y="1543.90" width="19.40" height="197.30" fill="#000" stroke="#000" stroke-width="1.4"/>
<rect x="456.40" y="1623.00" width="23.80" height="44.70" fill="#c0c0c0" stroke="#000" stroke-width="1.4"/>
<rect x="456.40" y="1667.70" width="23.80" height="73.50" fill="#000" stroke="#000" stroke-width="1.4"/>
<rect x="481.40" y="1645.20" width="23.60" height="38.70" fill="#c0c0c0" stroke="#000" stroke-width="1.4"/>
<rect x="481.40" y="1683.90" width="23.60" height="57.30" fill="#000" stroke="#000" stroke-width="1.4"/>
<rect x="506.20" y="1595.50" width="26.80" height="51.90" fill="#c0c0c0" stroke="#000" stroke-width="1.4"/>
<rect x="506.20" y="1647.40" width="26.80" height="93.80" fill="#000" stroke="#000" stroke-width="1.4"/>
<rect x="534.20" y="1591.70" width="23.40" height="53.80" fill="#c0c0c0" stroke="#000" stroke-width="1.4"/>
<rect x="534.20" y="1645.50" width="23.40" height="95.70" fill="#000" stroke="#000" stroke-width="1.4"/>
<rect x="558.80" y="1482.60" width="24.60" height="92.20" fill="#c0c0c0" stroke="#000" stroke-width="1.4"/>
<rect x="558.80" y="1574.80" width="24.60" height="166.40" fill="#000" stroke="#000" stroke-width="1.4"/>
<rect x="584.60" y="1591.70" width="23.80" height="57.60" fill="#c0c0c0" stroke="#000" stroke-width="1.4"/>
<rect x="584.60" y="1649.30" width="23.80" height="91.90" fill="#000" stroke="#000" stroke-width="1.4"/>
<rect x="609.60" y="1646.30" width="24.00" height="33.90" fill="#c0c0c0" stroke="#000" stroke-width="1.4"/>
<rect x="609.60" y="1680.20" width="24.00" height="61.00" fill="#000" stroke="#000" stroke-width="1.4"/>
<rect x="634.80" y="1396.80" width="23.60" height="122.30" fill="#c0c0c0" stroke="#000" stroke-width="1.4"/>
<rect x="634.80" y="1519.10" width="23.60" height="222.10" fill="#000" stroke="#000" stroke-width="1.4"/>
<rect x="659.60" y="1519.10" width="26.60" height="77.50" fill="#c0c0c0" stroke="#000" stroke-width="1.4"/>
<rect x="659.60" y="1596.60" width="26.60" height="144.60" fill="#000" stroke="#000" stroke-width="1.4"/>
<rect x="712.90" y="1668.10" width="23.80" height="33.50" fill="#c0c0c0" stroke="#000" stroke-width="1.4"/>
<rect x="712.90" y="1701.60" width="23.80" height="39.60" fill="#000" stroke="#000" stroke-width="1.4"/>
<rect x="737.90" y="1655.70" width="24.10" height="34.60" fill="#c0c0c0" stroke="#000" stroke-width="1.4"/>
<rect x="737.90" y="1690.30" width="24.10" height="50.90" fill="#000" stroke="#000" stroke-width="1.4"/>
<rect x="763.20" y="1714.00" width="75.40" height="10.20" fill="#c0c0c0" stroke="#000" stroke-width="1.4"/>
<rect x="763.20" y="1724.20" width="75.40" height="17.00" fill="#000" stroke="#000" stroke-width="1.4"/>
<rect x="839.80" y="1671.90" width="77.00" height="23.30" fill="#c0c0c0" stroke="#000" stroke-width="1.4"/>
<rect x="839.80" y="1695.20" width="77.00" height="46.00" fill="#000" stroke="#000" stroke-width="1.4"/>
<rect x="152.00" y="1283.30" width="766.00" height="457.90" fill="none" stroke="#000" stroke-width="1.8"/>
<line x1="151.50" y1="1741.20" x2="151.50" y2="1759.20" stroke="#000" stroke-width="2.0" />
<line x1="177.05" y1="1741.20" x2="177.05" y2="1748.20" stroke="#000" stroke-width="1.3" />
<line x1="202.60" y1="1741.20" x2="202.60" y2="1748.20" stroke="#000" stroke-width="1.3" />
<line x1="228.15" y1="1741.20" x2="228.15" y2="1759.20" stroke="#000" stroke-width="2.0" />
<line x1="253.70" y1="1741.20" x2="253.70" y2="1748.20" stroke="#000" stroke-width="1.3" />
<line x1="279.25" y1="1741.20" x2="279.25" y2="1748.20" stroke="#000" stroke-width="1.3" />
<line x1="304.80" y1="1741.20" x2="304.80" y2="1759.20" stroke="#000" stroke-width="2.0" />
<line x1="330.35" y1="1741.20" x2="330.35" y2="1748.20" stroke="#000" stroke-width="1.3" />
<line x1="355.90" y1="1741.20" x2="355.90" y2="1748.20" stroke="#000" stroke-width="1.3" />
<line x1="381.45" y1="1741.20" x2="381.45" y2="1759.20" stroke="#000" stroke-width="2.0" />
<line x1="407.00" y1="1741.20" x2="407.00" y2="1748.20" stroke="#000" stroke-width="1.3" />
<line x1="432.55" y1="1741.20" x2="432.55" y2="1748.20" stroke="#000" stroke-width="1.3" />
<line x1="458.10" y1="1741.20" x2="458.10" y2="1759.20" stroke="#000" stroke-width="2.0" />
<line x1="483.65" y1="1741.20" x2="483.65" y2="1748.20" stroke="#000" stroke-width="1.3" />
<line x1="509.20" y1="1741.20" x2="509.20" y2="1748.20" stroke="#000" stroke-width="1.3" />
<line x1="534.75" y1="1741.20" x2="534.75" y2="1759.20" stroke="#000" stroke-width="2.0" />
<line x1="560.30" y1="1741.20" x2="560.30" y2="1748.20" stroke="#000" stroke-width="1.3" />
<line x1="585.85" y1="1741.20" x2="585.85" y2="1748.20" stroke="#000" stroke-width="1.3" />
<line x1="611.40" y1="1741.20" x2="611.40" y2="1759.20" stroke="#000" stroke-width="2.0" />
<line x1="636.95" y1="1741.20" x2="636.95" y2="1748.20" stroke="#000" stroke-width="1.3" />
<line x1="662.50" y1="1741.20" x2="662.50" y2="1748.20" stroke="#000" stroke-width="1.3" />
<line x1="688.05" y1="1741.20" x2="688.05" y2="1759.20" stroke="#000" stroke-width="2.0" />
<line x1="713.60" y1="1741.20" x2="713.60" y2="1748.20" stroke="#000" stroke-width="1.3" />
<line x1="739.15" y1="1741.20" x2="739.15" y2="1748.20" stroke="#000" stroke-width="1.3" />
<line x1="764.70" y1="1741.20" x2="764.70" y2="1759.20" stroke="#000" stroke-width="2.0" />
<line x1="790.25" y1="1741.20" x2="790.25" y2="1748.20" stroke="#000" stroke-width="1.3" />
<line x1="815.80" y1="1741.20" x2="815.80" y2="1748.20" stroke="#000" stroke-width="1.3" />
<line x1="841.35" y1="1741.20" x2="841.35" y2="1759.20" stroke="#000" stroke-width="2.0" />
<line x1="866.90" y1="1741.20" x2="866.90" y2="1748.20" stroke="#000" stroke-width="1.3" />
<line x1="892.45" y1="1741.20" x2="892.45" y2="1748.20" stroke="#000" stroke-width="1.3" />
<line x1="918.00" y1="1741.20" x2="918.00" y2="1759.20" stroke="#000" stroke-width="2.0" />
<line x1="137.00" y1="1741.20" x2="152.00" y2="1741.20" stroke="#000" stroke-width="1.5" />
<text x="124.00" y="1750.51" font-family='"Liberation Sans", sans-serif' font-size="26.3" text-anchor="end" font-weight="normal" >0.0</text>
<line x1="144.50" y1="1725.94" x2="152.00" y2="1725.94" stroke="#000" stroke-width="1.5" />
<line x1="144.50" y1="1710.67" x2="152.00" y2="1710.67" stroke="#000" stroke-width="1.5" />
<line x1="144.50" y1="1695.41" x2="152.00" y2="1695.41" stroke="#000" stroke-width="1.5" />
<line x1="144.50" y1="1680.15" x2="152.00" y2="1680.15" stroke="#000" stroke-width="1.5" />
<line x1="137.00" y1="1664.88" x2="152.00" y2="1664.88" stroke="#000" stroke-width="1.5" />
<text x="124.00" y="1674.19" font-family='"Liberation Sans", sans-serif' font-size="26.3" text-anchor="end" font-weight="normal" >0.5</text>
<line x1="144.50" y1="1649.62" x2="152.00" y2="1649.62" stroke="#000" stroke-width="1.5" />
<line x1="144.50" y1="1634.36" x2="152.00" y2="1634.36" stroke="#000" stroke-width="1.5" />
<line x1="144.50" y1="1619.09" x2="152.00" y2="1619.09" stroke="#000" stroke-width="1.5" />
<line x1="144.50" y1="1603.83" x2="152.00" y2="1603.83" stroke="#000" stroke-width="1.5" />
<line x1="137.00" y1="1588.57" x2="152.00" y2="1588.57" stroke="#000" stroke-width="1.5" />
<text x="124.00" y="1597.88" font-family='"Liberation Sans", sans-serif' font-size="26.3" text-anchor="end" font-weight="normal" >1.0</text>
<line x1="144.50" y1="1573.30" x2="152.00" y2="1573.30" stroke="#000" stroke-width="1.5" />
<line x1="144.50" y1="1558.04" x2="152.00" y2="1558.04" stroke="#000" stroke-width="1.5" />
<line x1="144.50" y1="1542.78" x2="152.00" y2="1542.78" stroke="#000" stroke-width="1.5" />
<line x1="144.50" y1="1527.51" x2="152.00" y2="1527.51" stroke="#000" stroke-width="1.5" />
<line x1="137.00" y1="1512.25" x2="152.00" y2="1512.25" stroke="#000" stroke-width="1.5" />
<text x="124.00" y="1521.56" font-family='"Liberation Sans", sans-serif' font-size="26.3" text-anchor="end" font-weight="normal" >1.5</text>
<line x1="144.50" y1="1496.99" x2="152.00" y2="1496.99" stroke="#000" stroke-width="1.5" />
<line x1="144.50" y1="1481.72" x2="152.00" y2="1481.72" stroke="#000" stroke-width="1.5" />
<line x1="144.50" y1="1466.46" x2="152.00" y2="1466.46" stroke="#000" stroke-width="1.5" />
<line x1="144.50" y1="1451.20" x2="152.00" y2="1451.20" stroke="#000" stroke-width="1.5" />
<line x1="137.00" y1="1435.93" x2="152.00" y2="1435.93" stroke="#000" stroke-width="1.5" />
<text x="124.00" y="1445.24" font-family='"Liberation Sans", sans-serif' font-size="26.3" text-anchor="end" font-weight="normal" >2.0</text>
<line x1="144.50" y1="1420.67" x2="152.00" y2="1420.67" stroke="#000" stroke-width="1.5" />
<line x1="144.50" y1="1405.41" x2="152.00" y2="1405.41" stroke="#000" stroke-width="1.5" />
<line x1="144.50" y1="1390.14" x2="152.00" y2="1390.14" stroke="#000" stroke-width="1.5" />
<line x1="144.50" y1="1374.88" x2="152.00" y2="1374.88" stroke="#000" stroke-width="1.5" />
<line x1="137.00" y1="1359.62" x2="152.00" y2="1359.62" stroke="#000" stroke-width="1.5" />
<text x="124.00" y="1368.93" font-family='"Liberation Sans", sans-serif' font-size="26.3" text-anchor="end" font-weight="normal" >2.5</text>
<line x1="144.50" y1="1344.35" x2="152.00" y2="1344.35" stroke="#000" stroke-width="1.5" />
<line x1="144.50" y1="1329.09" x2="152.00" y2="1329.09" stroke="#000" stroke-width="1.5" />
<line x1="144.50" y1="1313.83" x2="152.00" y2="1313.83" stroke="#000" stroke-width="1.5" />
<line x1="144.50" y1="1298.56" x2="152.00" y2="1298.56" stroke="#000" stroke-width="1.5" />
<line x1="137.00" y1="1283.30" x2="152.00" y2="1283.30" stroke="#000" stroke-width="1.5" />
<text x="124.00" y="1292.61" font-family='"Liberation Sans", sans-serif' font-size="26.3" text-anchor="end" font-weight="normal" >3.0</text>
<rect x="762.00" y="1307.50" width="55.30" height="16.50" fill="#000" stroke="#000" stroke-width="1.3"/>
<rect x="762.00" y="1336.10" width="55.30" height="16.80" fill="#c0c0c0" stroke="#000" stroke-width="1.3"/>
<text x="830.50" y="1323.00" font-family='"Liberation Serif", serif' font-size="22" text-anchor="start" font-weight="normal" textLength="59" lengthAdjust="spacing">Al flux</text>
<text x="830.50" y="1352.60" font-family='"Liberation Serif", serif' font-size="23" text-anchor="start" font-weight="normal" textLength="66.5" lengthAdjust="spacing">Fe flux</text>
<text x="185.20" y="1344.50" font-family='"Liberation Sans", sans-serif' font-size="29.5" text-anchor="start" font-weight="bold" >D</text>
<text transform="translate(62.00,1513.00) rotate(-90)" font-family='"Liberation Serif", serif' font-size="30" text-anchor="middle" >Flux (mg m<tspan dy="-15.5" font-size="19">-2</tspan><tspan dy="15.5">d</tspan><tspan dy="-15.5" font-size="19">-1</tspan><tspan dy="15.5">)</tspan></text>
<text transform="translate(704.60,1691.70) rotate(-90)" font-family='"Liberation Serif", serif' font-size="22" text-anchor="middle" >No data</text>
<line x1="698.50" y1="1730.30" x2="698.50" y2="1763.40" stroke="#000" stroke-width="1.0" />
<polyline points="693.1,1743.8 698.5,1763.4 704,1743.8" fill="none" stroke="#000" stroke-width="1.0"/>
<rect x="152.00" y="1775.20" width="766.00" height="244.40" fill="none" stroke="#000" stroke-width="1.8"/>
<line x1="177.05" y1="2019.60" x2="177.05" y2="2026.60" stroke="#000" stroke-width="1.3" />
<line x1="202.60" y1="2019.60" x2="202.60" y2="2026.60" stroke="#000" stroke-width="1.3" />
<line x1="228.15" y1="2019.60" x2="228.15" y2="2037.60" stroke="#000" stroke-width="2.0" />
<line x1="253.70" y1="2019.60" x2="253.70" y2="2026.60" stroke="#000" stroke-width="1.3" />
<line x1="279.25" y1="2019.60" x2="279.25" y2="2026.60" stroke="#000" stroke-width="1.3" />
<line x1="304.80" y1="2019.60" x2="304.80" y2="2037.60" stroke="#000" stroke-width="2.0" />
<line x1="330.35" y1="2019.60" x2="330.35" y2="2026.60" stroke="#000" stroke-width="1.3" />
<line x1="355.90" y1="2019.60" x2="355.90" y2="2026.60" stroke="#000" stroke-width="1.3" />
<line x1="381.45" y1="2019.60" x2="381.45" y2="2037.60" stroke="#000" stroke-width="2.0" />
<line x1="407.00" y1="2019.60" x2="407.00" y2="2026.60" stroke="#000" stroke-width="1.3" />
<line x1="432.55" y1="2019.60" x2="432.55" y2="2026.60" stroke="#000" stroke-width="1.3" />
<line x1="458.10" y1="2019.60" x2="458.10" y2="2037.60" stroke="#000" stroke-width="2.0" />
<line x1="483.65" y1="2019.60" x2="483.65" y2="2026.60" stroke="#000" stroke-width="1.3" />
<line x1="509.20" y1="2019.60" x2="509.20" y2="2026.60" stroke="#000" stroke-width="1.3" />
<line x1="534.75" y1="2019.60" x2="534.75" y2="2037.60" stroke="#000" stroke-width="2.0" />
<line x1="560.30" y1="2019.60" x2="560.30" y2="2026.60" stroke="#000" stroke-width="1.3" />
<line x1="585.85" y1="2019.60" x2="585.85" y2="2026.60" stroke="#000" stroke-width="1.3" />
<line x1="611.40" y1="2019.60" x2="611.40" y2="2037.60" stroke="#000" stroke-width="2.0" />
<line x1="636.95" y1="2019.60" x2="636.95" y2="2026.60" stroke="#000" stroke-width="1.3" />
<line x1="662.50" y1="2019.60" x2="662.50" y2="2026.60" stroke="#000" stroke-width="1.3" />
<line x1="688.05" y1="2019.60" x2="688.05" y2="2037.60" stroke="#000" stroke-width="2.0" />
<line x1="713.60" y1="2019.60" x2="713.60" y2="2026.60" stroke="#000" stroke-width="1.3" />
<line x1="739.15" y1="2019.60" x2="739.15" y2="2026.60" stroke="#000" stroke-width="1.3" />
<line x1="764.70" y1="2019.60" x2="764.70" y2="2037.60" stroke="#000" stroke-width="2.0" />
<line x1="790.25" y1="2019.60" x2="790.25" y2="2026.60" stroke="#000" stroke-width="1.3" />
<line x1="815.80" y1="2019.60" x2="815.80" y2="2026.60" stroke="#000" stroke-width="1.3" />
<line x1="841.35" y1="2019.60" x2="841.35" y2="2037.60" stroke="#000" stroke-width="2.0" />
<line x1="866.90" y1="2019.60" x2="866.90" y2="2026.60" stroke="#000" stroke-width="1.3" />
<line x1="892.45" y1="2019.60" x2="892.45" y2="2026.60" stroke="#000" stroke-width="1.3" />
<line x1="137.00" y1="2019.60" x2="152.00" y2="2019.60" stroke="#000" stroke-width="1.5" />
<text x="124.00" y="2028.91" font-family='"Liberation Sans", sans-serif' font-size="26.3" text-anchor="end" font-weight="normal" >-15</text>
<line x1="147.00" y1="2012.62" x2="152.00" y2="2012.62" stroke="#000" stroke-width="1.5" />
<line x1="147.00" y1="2005.63" x2="152.00" y2="2005.63" stroke="#000" stroke-width="1.5" />
<line x1="147.00" y1="1998.65" x2="152.00" y2="1998.65" stroke="#000" stroke-width="1.5" />
<line x1="147.00" y1="1991.67" x2="152.00" y2="1991.67" stroke="#000" stroke-width="1.5" />
<line x1="137.00" y1="1984.69" x2="152.00" y2="1984.69" stroke="#000" stroke-width="1.5" />
<text x="124.00" y="1994.00" font-family='"Liberation Sans", sans-serif' font-size="26.3" text-anchor="end" font-weight="normal" >-10</text>
<line x1="147.00" y1="1977.70" x2="152.00" y2="1977.70" stroke="#000" stroke-width="1.5" />
<line x1="147.00" y1="1970.72" x2="152.00" y2="1970.72" stroke="#000" stroke-width="1.5" />
<line x1="147.00" y1="1963.74" x2="152.00" y2="1963.74" stroke="#000" stroke-width="1.5" />
<line x1="147.00" y1="1956.75" x2="152.00" y2="1956.75" stroke="#000" stroke-width="1.5" />
<line x1="137.00" y1="1949.77" x2="152.00" y2="1949.77" stroke="#000" stroke-width="1.5" />
<text x="124.00" y="1959.08" font-family='"Liberation Sans", sans-serif' font-size="26.3" text-anchor="end" font-weight="normal" >-5</text>
<line x1="147.00" y1="1942.79" x2="152.00" y2="1942.79" stroke="#000" stroke-width="1.5" />
<line x1="147.00" y1="1935.81" x2="152.00" y2="1935.81" stroke="#000" stroke-width="1.5" />
<line x1="147.00" y1="1928.82" x2="152.00" y2="1928.82" stroke="#000" stroke-width="1.5" />
<line x1="147.00" y1="1921.84" x2="152.00" y2="1921.84" stroke="#000" stroke-width="1.5" />
<line x1="137.00" y1="1914.86" x2="152.00" y2="1914.86" stroke="#000" stroke-width="1.5" />
<text x="124.00" y="1924.17" font-family='"Liberation Sans", sans-serif' font-size="26.3" text-anchor="end" font-weight="normal" >0</text>
<line x1="147.00" y1="1907.87" x2="152.00" y2="1907.87" stroke="#000" stroke-width="1.5" />
<line x1="147.00" y1="1900.89" x2="152.00" y2="1900.89" stroke="#000" stroke-width="1.5" />
<line x1="147.00" y1="1893.91" x2="152.00" y2="1893.91" stroke="#000" stroke-width="1.5" />
<line x1="147.00" y1="1886.93" x2="152.00" y2="1886.93" stroke="#000" stroke-width="1.5" />
<line x1="137.00" y1="1879.94" x2="152.00" y2="1879.94" stroke="#000" stroke-width="1.5" />
<text x="124.00" y="1889.25" font-family='"Liberation Sans", sans-serif' font-size="26.3" text-anchor="end" font-weight="normal" >5</text>
<line x1="147.00" y1="1872.96" x2="152.00" y2="1872.96" stroke="#000" stroke-width="1.5" />
<line x1="147.00" y1="1865.98" x2="152.00" y2="1865.98" stroke="#000" stroke-width="1.5" />
<line x1="147.00" y1="1858.99" x2="152.00" y2="1858.99" stroke="#000" stroke-width="1.5" />
<line x1="147.00" y1="1852.01" x2="152.00" y2="1852.01" stroke="#000" stroke-width="1.5" />
<line x1="137.00" y1="1845.03" x2="152.00" y2="1845.03" stroke="#000" stroke-width="1.5" />
<text x="124.00" y="1854.34" font-family='"Liberation Sans", sans-serif' font-size="26.3" text-anchor="end" font-weight="normal" >10</text>
<line x1="147.00" y1="1838.05" x2="152.00" y2="1838.05" stroke="#000" stroke-width="1.5" />
<line x1="147.00" y1="1831.06" x2="152.00" y2="1831.06" stroke="#000" stroke-width="1.5" />
<line x1="147.00" y1="1824.08" x2="152.00" y2="1824.08" stroke="#000" stroke-width="1.5" />
<line x1="147.00" y1="1817.10" x2="152.00" y2="1817.10" stroke="#000" stroke-width="1.5" />
<line x1="137.00" y1="1810.11" x2="152.00" y2="1810.11" stroke="#000" stroke-width="1.5" />
<text x="124.00" y="1819.42" font-family='"Liberation Sans", sans-serif' font-size="26.3" text-anchor="end" font-weight="normal" >15</text>
<line x1="147.00" y1="1803.13" x2="152.00" y2="1803.13" stroke="#000" stroke-width="1.5" />
<line x1="147.00" y1="1796.15" x2="152.00" y2="1796.15" stroke="#000" stroke-width="1.5" />
<line x1="147.00" y1="1789.17" x2="152.00" y2="1789.17" stroke="#000" stroke-width="1.5" />
<line x1="147.00" y1="1782.18" x2="152.00" y2="1782.18" stroke="#000" stroke-width="1.5" />
<line x1="137.00" y1="1775.20" x2="152.00" y2="1775.20" stroke="#000" stroke-width="1.5" />
<text x="124.00" y="1784.51" font-family='"Liberation Sans", sans-serif' font-size="26.3" text-anchor="end" font-weight="normal" >20</text>
<line x1="918.00" y1="2019.60" x2="933.00" y2="2019.60" stroke="#000" stroke-width="1.5" />
<text x="946.00" y="2028.80" font-family='"Liberation Sans", sans-serif' font-size="26" text-anchor="start" font-weight="normal" >0</text>
<line x1="918.00" y1="2007.38" x2="925.50" y2="2007.38" stroke="#000" stroke-width="1.5" />
<line x1="918.00" y1="1995.16" x2="925.50" y2="1995.16" stroke="#000" stroke-width="1.5" />
<line x1="918.00" y1="1982.94" x2="925.50" y2="1982.94" stroke="#000" stroke-width="1.5" />
<line x1="918.00" y1="1970.72" x2="925.50" y2="1970.72" stroke="#000" stroke-width="1.5" />
<line x1="918.00" y1="1958.50" x2="933.00" y2="1958.50" stroke="#000" stroke-width="1.5" />
<text x="946.00" y="1967.70" font-family='"Liberation Sans", sans-serif' font-size="26" text-anchor="start" font-weight="normal" >5</text>
<line x1="918.00" y1="1946.28" x2="925.50" y2="1946.28" stroke="#000" stroke-width="1.5" />
<line x1="918.00" y1="1934.06" x2="925.50" y2="1934.06" stroke="#000" stroke-width="1.5" />
<line x1="918.00" y1="1921.84" x2="925.50" y2="1921.84" stroke="#000" stroke-width="1.5" />
<line x1="918.00" y1="1909.62" x2="925.50" y2="1909.62" stroke="#000" stroke-width="1.5" />
<line x1="918.00" y1="1897.40" x2="933.00" y2="1897.40" stroke="#000" stroke-width="1.5" />
<text x="946.00" y="1906.60" font-family='"Liberation Sans", sans-serif' font-size="26" text-anchor="start" font-weight="normal" >10</text>
<line x1="918.00" y1="1885.18" x2="925.50" y2="1885.18" stroke="#000" stroke-width="1.5" />
<line x1="918.00" y1="1872.96" x2="925.50" y2="1872.96" stroke="#000" stroke-width="1.5" />
<line x1="918.00" y1="1860.74" x2="925.50" y2="1860.74" stroke="#000" stroke-width="1.5" />
<line x1="918.00" y1="1848.52" x2="925.50" y2="1848.52" stroke="#000" stroke-width="1.5" />
<line x1="918.00" y1="1836.30" x2="933.00" y2="1836.30" stroke="#000" stroke-width="1.5" />
<text x="946.00" y="1845.50" font-family='"Liberation Sans", sans-serif' font-size="26" text-anchor="start" font-weight="normal" >15</text>
<line x1="918.00" y1="1824.08" x2="925.50" y2="1824.08" stroke="#000" stroke-width="1.5" />
<line x1="918.00" y1="1811.86" x2="925.50" y2="1811.86" stroke="#000" stroke-width="1.5" />
<line x1="918.00" y1="1799.64" x2="925.50" y2="1799.64" stroke="#000" stroke-width="1.5" />
<line x1="918.00" y1="1787.42" x2="925.50" y2="1787.42" stroke="#000" stroke-width="1.5" />
<line x1="918.00" y1="1775.20" x2="933.00" y2="1775.20" stroke="#000" stroke-width="1.5" />
<text x="946.00" y="1784.40" font-family='"Liberation Sans", sans-serif' font-size="26" text-anchor="start" font-weight="normal" >20</text>
<!--E-->
<path d="M147.0 2004.8a6.8 6.8 0 1 0 13.6 0a6.8 6.8 0 1 0 -13.6 0M150.7 2009.5a6.8 6.8 0 1 0 13.6 0a6.8 6.8 0 1 0 -13.6 0M154.5 2006.7a6.8 6.8 0 1 0 13.6 0a6.8 6.8 0 1 0 -13.6 0M158.2 1996.4a6.8 6.8 0 1 0 13.6 0a6.8 6.8 0 1 0 -13.6 0M160.6 1991.7a6.8 6.8 0 1 0 13.6 0a6.8 6.8 0 1 0 -13.6 0M163.0 1988.8a6.8 6.8 0 1 0 13.6 0a6.8 6.8 0 1 0 -13.6 0M165.8 1993.2a6.8 6.8 0 1 0 13.6 0a6.8 6.8 0 1 0 -13.6 0M168.6 2001.1a6.8 6.8 0 1 0 13.6 0a6.8 6.8 0 1 0 -13.6 0M171.4 1990.7a6.8 6.8 0 1 0 13.6 0a6.8 6.8 0 1 0 -13.6 0M175.2 2001.1a6.8 6.8 0 1 0 13.6 0a6.8 6.8 0 1 0 -13.6 0M178.0 2002.0a6.8 6.8 0 1 0 13.6 0a6.8 6.8 0 1 0 -13.6 0M180.3 2000.4a6.8 6.8 0 1 0 13.6 0a6.8 6.8 0 1 0 -13.6 0M182.7 1997.3a6.8 6.8 0 1 0 13.6 0a6.8 6.8 0 1 0 -13.6 0M185.5 1982.3a6.8 6.8 0 1 0 13.6 0a6.8 6.8 0 1 0 -13.6 0M188.4 1981.3a6.8 6.8 0 1 0 13.6 0a6.8 6.8 0 1 0 -13.6 0M191.2 1997.3a6.8 6.8 0 1 0 13.6 0a6.8 6.8 0 1 0 -13.6 0M194.0 1992.6a6.8 6.8 0 1 0 13.6 0a6.8 6.8 0 1 0 -13.6 0M196.3 1987.2a6.8 6.8 0 1 0 13.6 0a6.8 6.8 0 1 0 -13.6 0M198.7 1986.0a6.8 6.8 0 1 0 13.6 0a6.8 6.8 0 1 0 -13.6 0M202.5 1959.7a6.8 6.8 0 1 0 13.6 0a6.8 6.8 0 1 0 -13.6 0M206.2 1975.7a6.8 6.8 0 1 0 13.6 0a6.8 6.8 0 1 0 -13.6 0M210.0 2005.8a6.8 6.8 0 1 0 13.6 0a6.8 6.8 0 1 0 -13.6 0M212.8 1992.6a6.8 6.8 0 1 0 13.6 0a6.8 6.8 0 1 0 -13.6 0M215.6 1987.0a6.8 6.8 0 1 0 13.6 0a6.8 6.8 0 1 0 -13.6 0M220.3 1991.7a6.8 6.8 0 1 0 13.6 0a6.8 6.8 0 1 0 -13.6 0M224.1 2001.1a6.8 6.8 0 1 0 13.6 0a6.8 6.8 0 1 0 -13.6 0M226.9 2002.0a6.8 6.8 0 1 0 13.6 0a6.8 6.8 0 1 0 -13.6 0M229.2 1983.8a6.8 6.8 0 1 0 13.6 0a6.8 6.8 0 1 0 -13.6 0M231.6 1965.3a6.8 6.8 0 1 0 13.6 0a6.8 6.8 0 1 0 -13.6 0M235.4 1975.7a6.8 6.8 0 1 0 13.6 0a6.8 6.8 0 1 0 -13.6 0M237.8 1989.6a6.8 6.8 0 1 0 13.6 0a6.8 6.8 0 1 0 -13.6 0M240.1 2004.8a6.8 6.8 0 1 0 13.6 0a6.8 6.8 0 1 0 -13.6 0M242.9 1998.3a6.8 6.8 0 1 0 13.6 0a6.8 6.8 0 1 0 -13.6 0M246.7 1966.3a6.8 6.8 0 1 0 13.6 0a6.8 6.8 0 1 0 -13.6 0M249.0 1957.0a6.8 6.8 0 1 0 13.6 0a6.8 6.8 0 1 0 -13.6 0M251.4 1952.2a6.8 6.8 0 1 0 13.6 0a6.8 6.8 0 1 0 -13.6 0M255.2 1959.7a6.8 6.8 0 1 0 13.6 0a6.8 6.8 0 1 0 -13.6 0M257.0 1959.7a6.8 6.8 0 1 0 13.6 0a6.8 6.8 0 1 0 -13.6 0M259.8 1980.4a6.8 6.8 0 1 0 13.6 0a6.8 6.8 0 1 0 -13.6 0M261.7 1981.3a6.8 6.8 0 1 0 13.6 0a6.8 6.8 0 1 0 -13.6 0M264.6 1965.3a6.8 6.8 0 1 0 13.6 0a6.8 6.8 0 1 0 -13.6 0M267.4 1980.4a6.8 6.8 0 1 0 13.6 0a6.8 6.8 0 1 0 -13.6 0M270.2 1968.1a6.8 6.8 0 1 0 13.6 0a6.8 6.8 0 1 0 -13.6 0M273.0 1975.7a6.8 6.8 0 1 0 13.6 0a6.8 6.8 0 1 0 -13.6 0M275.7 1963.5a6.8 6.8 0 1 0 13.6 0a6.8 6.8 0 1 0 -13.6 0M278.3 1951.2a6.8 6.8 0 1 0 13.6 0a6.8 6.8 0 1 0 -13.6 0M282.4 1975.7a6.8 6.8 0 1 0 13.6 0a6.8 6.8 0 1 0 -13.6 0M286.2 1968.1a6.8 6.8 0 1 0 13.6 0a6.8 6.8 0 1 0 -13.6 0M289.0 1984.1a6.8 6.8 0 1 0 13.6 0a6.8 6.8 0 1 0 -13.6 0M292.8 1987.0a6.8 6.8 0 1 0 13.6 0a6.8 6.8 0 1 0 -13.6 0M295.2 1993.5a6.8 6.8 0 1 0 13.6 0a6.8 6.8 0 1 0 -13.6 0M297.8 1970.0a6.8 6.8 0 1 0 13.6 0a6.8 6.8 0 1 0 -13.6 0M300.3 1951.2a6.8 6.8 0 1 0 13.6 0a6.8 6.8 0 1 0 -13.6 0M305.9 1976.6a6.8 6.8 0 1 0 13.6 0a6.8 6.8 0 1 0 -13.6 0M308.8 1976.6a6.8 6.8 0 1 0 13.6 0a6.8 6.8 0 1 0 -13.6 0M312.6 1987.1a6.8 6.8 0 1 0 13.6 0a6.8 6.8 0 1 0 -13.6 0M316.3 1998.3a6.8 6.8 0 1 0 13.6 0a6.8 6.8 0 1 0 -13.6 0M319.1 1977.6a6.8 6.8 0 1 0 13.6 0a6.8 6.8 0 1 0 -13.6 0M321.0 1977.6a6.8 6.8 0 1 0 13.6 0a6.8 6.8 0 1 0 -13.6 0M324.8 1958.7a6.8 6.8 0 1 0 13.6 0a6.8 6.8 0 1 0 -13.6 0M327.6 1963.4a6.8 6.8 0 1 0 13.6 0a6.8 6.8 0 1 0 -13.6 0M330.4 1982.9a6.8 6.8 0 1 0 13.6 0a6.8 6.8 0 1 0 -13.6 0M333.2 2006.7a6.8 6.8 0 1 0 13.6 0a6.8 6.8 0 1 0 -13.6 0M336.0 1992.1a6.8 6.8 0 1 0 13.6 0a6.8 6.8 0 1 0 -13.6 0M338.8 1996.8a6.8 6.8 0 1 0 13.6 0a6.8 6.8 0 1 0 -13.6 0M341.7 1996.8a6.8 6.8 0 1 0 13.6 0a6.8 6.8 0 1 0 -13.6 0M344.1 1984.0a6.8 6.8 0 1 0 13.6 0a6.8 6.8 0 1 0 -13.6 0M346.4 1975.2a6.8 6.8 0 1 0 13.6 0a6.8 6.8 0 1 0 -13.6 0M349.2 1978.1a6.8 6.8 0 1 0 13.6 0a6.8 6.8 0 1 0 -13.6 0M352.0 1981.7a6.8 6.8 0 1 0 13.6 0a6.8 6.8 0 1 0 -13.6 0M354.8 1981.0a6.8 6.8 0 1 0 13.6 0a6.8 6.8 0 1 0 -13.6 0M357.7 1977.0a6.8 6.8 0 1 0 13.6 0a6.8 6.8 0 1 0 -13.6 0M360.5 1999.6a6.8 6.8 0 1 0 13.6 0a6.8 6.8 0 1 0 -13.6 0M363.3 1993.0a6.8 6.8 0 1 0 13.6 0a6.8 6.8 0 1 0 -13.6 0M365.7 1998.2a6.8 6.8 0 1 0 13.6 0a6.8 6.8 0 1 0 -13.6 0M368.0 2007.1a6.8 6.8 0 1 0 13.6 0a6.8 6.8 0 1 0 -13.6 0M371.8 2010.0a6.8 6.8 0 1 0 13.6 0a6.8 6.8 0 1 0 -13.6 0M374.6 2007.1a6.8 6.8 0 1 0 13.6 0a6.8 6.8 0 1 0 -13.6 0M378.4 2009.0a6.8 6.8 0 1 0 13.6 0a6.8 6.8 0 1 0 -13.6 0M380.7 2008.8a6.8 6.8 0 1 0 13.6 0a6.8 6.8 0 1 0 -13.6 0M383.1 2011.3a6.8 6.8 0 1 0 13.6 0a6.8 6.8 0 1 0 -13.6 0M385.9 2008.1a6.8 6.8 0 1 0 13.6 0a6.8 6.8 0 1 0 -13.6 0M390.6 2006.2a6.8 6.8 0 1 0 13.6 0a6.8 6.8 0 1 0 -13.6 0M393.4 2002.4a6.8 6.8 0 1 0 13.6 0a6.8 6.8 0 1 0 -13.6 0M396.2 1972.9a6.8 6.8 0 1 0 13.6 0a6.8 6.8 0 1 0 -13.6 0M399.1 1978.0a6.8 6.8 0 1 0 13.6 0a6.8 6.8 0 1 0 -13.6 0M401.9 1993.2a6.8 6.8 0 1 0 13.6 0a6.8 6.8 0 1 0 -13.6 0M404.7 2007.1a6.8 6.8 0 1 0 13.6 0a6.8 6.8 0 1 0 -13.6 0M407.5 1994.0a6.8 6.8 0 1 0 13.6 0a6.8 6.8 0 1 0 -13.6 0M410.3 2000.6a6.8 6.8 0 1 0 13.6 0a6.8 6.8 0 1 0 -13.6 0M412.2 2001.5a6.8 6.8 0 1 0 13.6 0a6.8 6.8 0 1 0 -13.6 0M417.9 2004.9a6.8 6.8 0 1 0 13.6 0a6.8 6.8 0 1 0 -13.6 0M420.7 2004.3a6.8 6.8 0 1 0 13.6 0a6.8 6.8 0 1 0 -13.6 0M423.1 2004.7a6.8 6.8 0 1 0 13.6 0a6.8 6.8 0 1 0 -13.6 0M425.4 2000.6a6.8 6.8 0 1 0 13.6 0a6.8 6.8 0 1 0 -13.6 0M428.2 1998.6a6.8 6.8 0 1 0 13.6 0a6.8 6.8 0 1 0 -13.6 0M431.0 1995.9a6.8 6.8 0 1 0 13.6 0a6.8 6.8 0 1 0 -13.6 0M434.8 1994.9a6.8 6.8 0 1 0 13.6 0a6.8 6.8 0 1 0 -13.6 0M437.6 1980.8a6.8 6.8 0 1 0 13.6 0a6.8 6.8 0 1 0 -13.6 0M440.4 1990.2a6.8 6.8 0 1 0 13.6 0a6.8 6.8 0 1 0 -13.6 0M445.2 1985.5a6.8 6.8 0 1 0 13.6 0a6.8 6.8 0 1 0 -13.6 0M448.0 1958.2a6.8 6.8 0 1 0 13.6 0a6.8 6.8 0 1 0 -13.6 0M451.4 1978.9a6.8 6.8 0 1 0 13.6 0a6.8 6.8 0 1 0 -13.6 0M453.9 1960.5a6.8 6.8 0 1 0 13.6 0a6.8 6.8 0 1 0 -13.6 0M456.4 1943.2a6.8 6.8 0 1 0 13.6 0a6.8 6.8 0 1 0 -13.6 0M459.3 1981.7a6.8 6.8 0 1 0 13.6 0a6.8 6.8 0 1 0 -13.6 0M462.1 1974.2a6.8 6.8 0 1 0 13.6 0a6.8 6.8 0 1 0 -13.6 0M467.7 1957.3a6.8 6.8 0 1 0 13.6 0a6.8 6.8 0 1 0 -13.6 0M470.5 1953.5a6.8 6.8 0 1 0 13.6 0a6.8 6.8 0 1 0 -13.6 0M473.4 1959.2a6.8 6.8 0 1 0 13.6 0a6.8 6.8 0 1 0 -13.6 0M476.2 1956.3a6.8 6.8 0 1 0 13.6 0a6.8 6.8 0 1 0 -13.6 0M478.1 1970.5a6.8 6.8 0 1 0 13.6 0a6.8 6.8 0 1 0 -13.6 0M480.9 1955.4a6.8 6.8 0 1 0 13.6 0a6.8 6.8 0 1 0 -13.6 0M483.7 1977.0a6.8 6.8 0 1 0 13.6 0a6.8 6.8 0 1 0 -13.6 0M486.5 1952.6a6.8 6.8 0 1 0 13.6 0a6.8 6.8 0 1 0 -13.6 0M489.4 1976.1a6.8 6.8 0 1 0 13.6 0a6.8 6.8 0 1 0 -13.6 0M495.0 1990.2a6.8 6.8 0 1 0 13.6 0a6.8 6.8 0 1 0 -13.6 0M497.8 1978.0a6.8 6.8 0 1 0 13.6 0a6.8 6.8 0 1 0 -13.6 0M500.7 2007.1a6.8 6.8 0 1 0 13.6 0a6.8 6.8 0 1 0 -13.6 0M503.5 1988.3a6.8 6.8 0 1 0 13.6 0a6.8 6.8 0 1 0 -13.6 0M505.4 1981.7a6.8 6.8 0 1 0 13.6 0a6.8 6.8 0 1 0 -13.6 0M508.2 1980.8a6.8 6.8 0 1 0 13.6 0a6.8 6.8 0 1 0 -13.6 0M511.9 1961.0a6.8 6.8 0 1 0 13.6 0a6.8 6.8 0 1 0 -13.6 0M514.2 1961.0a6.8 6.8 0 1 0 13.6 0a6.8 6.8 0 1 0 -13.6 0M516.6 1973.3a6.8 6.8 0 1 0 13.6 0a6.8 6.8 0 1 0 -13.6 0M522.3 1953.5a6.8 6.8 0 1 0 13.6 0a6.8 6.8 0 1 0 -13.6 0M525.1 1955.4a6.8 6.8 0 1 0 13.6 0a6.8 6.8 0 1 0 -13.6 0M527.9 1945.1a6.8 6.8 0 1 0 13.6 0a6.8 6.8 0 1 0 -13.6 0M530.7 1975.2a6.8 6.8 0 1 0 13.6 0a6.8 6.8 0 1 0 -13.6 0M533.2 1977.5a6.8 6.8 0 1 0 13.6 0a6.8 6.8 0 1 0 -13.6 0M536.0 1979.9a6.8 6.8 0 1 0 13.6 0a6.8 6.8 0 1 0 -13.6 0M538.8 1977.0a6.8 6.8 0 1 0 13.6 0a6.8 6.8 0 1 0 -13.6 0M541.7 1986.4a6.8 6.8 0 1 0 13.6 0a6.8 6.8 0 1 0 -13.6 0M544.1 1986.9a6.8 6.8 0 1 0 13.6 0a6.8 6.8 0 1 0 -13.6 0M546.4 1982.7a6.8 6.8 0 1 0 13.6 0a6.8 6.8 0 1 0 -13.6 0M552.0 1974.2a6.8 6.8 0 1 0 13.6 0a6.8 6.8 0 1 0 -13.6 0M554.8 1946.0a6.8 6.8 0 1 0 13.6 0a6.8 6.8 0 1 0 -13.6 0M557.7 1962.9a6.8 6.8 0 1 0 13.6 0a6.8 6.8 0 1 0 -13.6 0M560.5 1981.7a6.8 6.8 0 1 0 13.6 0a6.8 6.8 0 1 0 -13.6 0M562.9 1966.7a6.8 6.8 0 1 0 13.6 0a6.8 6.8 0 1 0 -13.6 0M566.1 1988.3a6.8 6.8 0 1 0 13.6 0a6.8 6.8 0 1 0 -13.6 0M568.9 1994.0a6.8 6.8 0 1 0 13.6 0a6.8 6.8 0 1 0 -13.6 0M571.8 1986.4a6.8 6.8 0 1 0 13.6 0a6.8 6.8 0 1 0 -13.6 0M574.2 1992.1a6.8 6.8 0 1 0 13.6 0a6.8 6.8 0 1 0 -13.6 0M579.3 1996.8a6.8 6.8 0 1 0 13.6 0a6.8 6.8 0 1 0 -13.6 0M582.1 2003.4a6.8 6.8 0 1 0 13.6 0a6.8 6.8 0 1 0 -13.6 0M584.9 1997.7a6.8 6.8 0 1 0 13.6 0a6.8 6.8 0 1 0 -13.6 0M587.8 1998.7a6.8 6.8 0 1 0 13.6 0a6.8 6.8 0 1 0 -13.6 0M590.6 2000.6a6.8 6.8 0 1 0 13.6 0a6.8 6.8 0 1 0 -13.6 0M593.4 1992.1a6.8 6.8 0 1 0 13.6 0a6.8 6.8 0 1 0 -13.6 0M596.2 1977.0a6.8 6.8 0 1 0 13.6 0a6.8 6.8 0 1 0 -13.6 0M598.1 1986.4a6.8 6.8 0 1 0 13.6 0a6.8 6.8 0 1 0 -13.6 0M601.3 1987.4a6.8 6.8 0 1 0 13.6 0a6.8 6.8 0 1 0 -13.6 0M607.5 1986.4a6.8 6.8 0 1 0 13.6 0a6.8 6.8 0 1 0 -13.6 0M610.0 1992.1a6.8 6.8 0 1 0 13.6 0a6.8 6.8 0 1 0 -13.6 0M613.2 1980.8a6.8 6.8 0 1 0 13.6 0a6.8 6.8 0 1 0 -13.6 0M616.0 1976.1a6.8 6.8 0 1 0 13.6 0a6.8 6.8 0 1 0 -13.6 0M619.7 1976.1a6.8 6.8 0 1 0 13.6 0a6.8 6.8 0 1 0 -13.6 0M623.5 1952.6a6.8 6.8 0 1 0 13.6 0a6.8 6.8 0 1 0 -13.6 0M626.3 1965.7a6.8 6.8 0 1 0 13.6 0a6.8 6.8 0 1 0 -13.6 0M629.2 1964.8a6.8 6.8 0 1 0 13.6 0a6.8 6.8 0 1 0 -13.6 0M634.8 1969.5a6.8 6.8 0 1 0 13.6 0a6.8 6.8 0 1 0 -13.6 0M636.7 1974.2a6.8 6.8 0 1 0 13.6 0a6.8 6.8 0 1 0 -13.6 0M639.5 1963.9a6.8 6.8 0 1 0 13.6 0a6.8 6.8 0 1 0 -13.6 0M641.9 1975.2a6.8 6.8 0 1 0 13.6 0a6.8 6.8 0 1 0 -13.6 0M644.2 1974.2a6.8 6.8 0 1 0 13.6 0a6.8 6.8 0 1 0 -13.6 0M647.0 1978.9a6.8 6.8 0 1 0 13.6 0a6.8 6.8 0 1 0 -13.6 0M650.8 1964.8a6.8 6.8 0 1 0 13.6 0a6.8 6.8 0 1 0 -13.6 0M653.6 1982.7a6.8 6.8 0 1 0 13.6 0a6.8 6.8 0 1 0 -13.6 0M656.4 1986.4a6.8 6.8 0 1 0 13.6 0a6.8 6.8 0 1 0 -13.6 0M661.1 2003.4a6.8 6.8 0 1 0 13.6 0a6.8 6.8 0 1 0 -13.6 0M664.9 2007.1a6.8 6.8 0 1 0 13.6 0a6.8 6.8 0 1 0 -13.6 0M668.7 2010.0a6.8 6.8 0 1 0 13.6 0a6.8 6.8 0 1 0 -13.6 0M672.4 2007.1a6.8 6.8 0 1 0 13.6 0a6.8 6.8 0 1 0 -13.6 0M676.2 2008.1a6.8 6.8 0 1 0 13.6 0a6.8 6.8 0 1 0 -13.6 0M680.0 2006.2a6.8 6.8 0 1 0 13.6 0a6.8 6.8 0 1 0 -13.6 0M683.7 2005.3a6.8 6.8 0 1 0 13.6 0a6.8 6.8 0 1 0 -13.6 0M689.4 2010.9a6.8 6.8 0 1 0 13.6 0a6.8 6.8 0 1 0 -13.6 0M693.1 2010.0a6.8 6.8 0 1 0 13.6 0a6.8 6.8 0 1 0 -13.6 0M696.0 2006.8a6.8 6.8 0 1 0 13.6 0a6.8 6.8 0 1 0 -13.6 0M698.8 2008.1a6.8 6.8 0 1 0 13.6 0a6.8 6.8 0 1 0 -13.6 0M701.6 2009.6a6.8 6.8 0 1 0 13.6 0a6.8 6.8 0 1 0 -13.6 0M704.4 2007.5a6.8 6.8 0 1 0 13.6 0a6.8 6.8 0 1 0 -13.6 0M707.2 2005.3a6.8 6.8 0 1 0 13.6 0a6.8 6.8 0 1 0 -13.6 0M710.1 2005.3a6.8 6.8 0 1 0 13.6 0a6.8 6.8 0 1 0 -13.6 0M713.4 2008.1a6.8 6.8 0 1 0 13.6 0a6.8 6.8 0 1 0 -13.6 0M718.8 2009.0a6.8 6.8 0 1 0 13.6 0a6.8 6.8 0 1 0 -13.6 0M721.7 2006.8a6.8 6.8 0 1 0 13.6 0a6.8 6.8 0 1 0 -13.6 0M724.5 2008.1a6.8 6.8 0 1 0 13.6 0a6.8 6.8 0 1 0 -13.6 0M727.3 2007.1a6.8 6.8 0 1 0 13.6 0a6.8 6.8 0 1 0 -13.6 0M730.1 2002.4a6.8 6.8 0 1 0 13.6 0a6.8 6.8 0 1 0 -13.6 0M733.0 2004.3a6.8 6.8 0 1 0 13.6 0a6.8 6.8 0 1 0 -13.6 0M736.7 2003.4a6.8 6.8 0 1 0 13.6 0a6.8 6.8 0 1 0 -13.6 0M739.1 2001.0a6.8 6.8 0 1 0 13.6 0a6.8 6.8 0 1 0 -13.6 0M741.4 2002.4a6.8 6.8 0 1 0 13.6 0a6.8 6.8 0 1 0 -13.6 0M746.7 1999.6a6.8 6.8 0 1 0 13.6 0a6.8 6.8 0 1 0 -13.6 0M749.9 2003.4a6.8 6.8 0 1 0 13.6 0a6.8 6.8 0 1 0 -13.6 0M752.7 2006.2a6.8 6.8 0 1 0 13.6 0a6.8 6.8 0 1 0 -13.6 0M756.5 2005.3a6.8 6.8 0 1 0 13.6 0a6.8 6.8 0 1 0 -13.6 0M760.2 2007.1a6.8 6.8 0 1 0 13.6 0a6.8 6.8 0 1 0 -13.6 0M764.0 2005.3a6.8 6.8 0 1 0 13.6 0a6.8 6.8 0 1 0 -13.6 0M766.4 2004.8a6.8 6.8 0 1 0 13.6 0a6.8 6.8 0 1 0 -13.6 0M768.7 2006.2a6.8 6.8 0 1 0 13.6 0a6.8 6.8 0 1 0 -13.6 0M773.4 1986.4a6.8 6.8 0 1 0 13.6 0a6.8 6.8 0 1 0 -13.6 0M777.2 1984.6a6.8 6.8 0 1 0 13.6 0a6.8 6.8 0 1 0 -13.6 0M779.6 1991.8a6.8 6.8 0 1 0 13.6 0a6.8 6.8 0 1 0 -13.6 0M781.9 1995.9a6.8 6.8 0 1 0 13.6 0a6.8 6.8 0 1 0 -13.6 0M784.7 1986.4a6.8 6.8 0 1 0 13.6 0a6.8 6.8 0 1 0 -13.6 0M788.5 1979.9a6.8 6.8 0 1 0 13.6 0a6.8 6.8 0 1 0 -13.6 0M791.3 1982.7a6.8 6.8 0 1 0 13.6 0a6.8 6.8 0 1 0 -13.6 0M794.1 1987.4a6.8 6.8 0 1 0 13.6 0a6.8 6.8 0 1 0 -13.6 0M796.0 1978.0a6.8 6.8 0 1 0 13.6 0a6.8 6.8 0 1 0 -13.6 0M801.6 1987.4a6.8 6.8 0 1 0 13.6 0a6.8 6.8 0 1 0 -13.6 0M804.5 1986.4a6.8 6.8 0 1 0 13.6 0a6.8 6.8 0 1 0 -13.6 0M806.3 1994.9a6.8 6.8 0 1 0 13.6 0a6.8 6.8 0 1 0 -13.6 0M809.2 1997.7a6.8 6.8 0 1 0 13.6 0a6.8 6.8 0 1 0 -13.6 0M812.0 1997.7a6.8 6.8 0 1 0 13.6 0a6.8 6.8 0 1 0 -13.6 0M815.7 2005.3a6.8 6.8 0 1 0 13.6 0a6.8 6.8 0 1 0 -13.6 0M818.1 2006.1a6.8 6.8 0 1 0 13.6 0a6.8 6.8 0 1 0 -13.6 0M820.4 2010.0a6.8 6.8 0 1 0 13.6 0a6.8 6.8 0 1 0 -13.6 0M824.2 2005.3a6.8 6.8 0 1 0 13.6 0a6.8 6.8 0 1 0 -13.6 0M828.0 2004.3a6.8 6.8 0 1 0 13.6 0a6.8 6.8 0 1 0 -13.6 0M831.4 2001.5a6.8 6.8 0 1 0 13.6 0a6.8 6.8 0 1 0 -13.6 0M835.1 1983.6a6.8 6.8 0 1 0 13.6 0a6.8 6.8 0 1 0 -13.6 0M837.4 1983.6a6.8 6.8 0 1 0 13.6 0a6.8 6.8 0 1 0 -13.6 0M840.2 1988.3a6.8 6.8 0 1 0 13.6 0a6.8 6.8 0 1 0 -13.6 0M843.0 1980.8a6.8 6.8 0 1 0 13.6 0a6.8 6.8 0 1 0 -13.6 0M845.4 1978.4a6.8 6.8 0 1 0 13.6 0a6.8 6.8 0 1 0 -13.6 0M847.7 1975.2a6.8 6.8 0 1 0 13.6 0a6.8 6.8 0 1 0 -13.6 0M850.5 1980.8a6.8 6.8 0 1 0 13.6 0a6.8 6.8 0 1 0 -13.6 0M853.9 1991.1a6.8 6.8 0 1 0 13.6 0a6.8 6.8 0 1 0 -13.6 0M857.1 1990.2a6.8 6.8 0 1 0 13.6 0a6.8 6.8 0 1 0 -13.6 0M859.5 1996.5a6.8 6.8 0 1 0 13.6 0a6.8 6.8 0 1 0 -13.6 0M861.8 2001.5a6.8 6.8 0 1 0 13.6 0a6.8 6.8 0 1 0 -13.6 0M863.7 2004.3a6.8 6.8 0 1 0 13.6 0a6.8 6.8 0 1 0 -13.6 0M867.5 2007.1a6.8 6.8 0 1 0 13.6 0a6.8 6.8 0 1 0 -13.6 0M870.3 2001.5a6.8 6.8 0 1 0 13.6 0a6.8 6.8 0 1 0 -13.6 0M873.1 2004.3a6.8 6.8 0 1 0 13.6 0a6.8 6.8 0 1 0 -13.6 0M875.9 2003.4a6.8 6.8 0 1 0 13.6 0a6.8 6.8 0 1 0 -13.6 0M878.8 1996.8a6.8 6.8 0 1 0 13.6 0a6.8 6.8 0 1 0 -13.6 0M880.7 1987.4a6.8 6.8 0 1 0 13.6 0a6.8 6.8 0 1 0 -13.6 0M886.3 1991.1a6.8 6.8 0 1 0 13.6 0a6.8 6.8 0 1 0 -13.6 0M889.1 1999.6a6.8 6.8 0 1 0 13.6 0a6.8 6.8 0 1 0 -13.6 0M891.9 1990.2a6.8 6.8 0 1 0 13.6 0a6.8 6.8 0 1 0 -13.6 0M894.2 1989.6a6.8 6.8 0 1 0 13.6 0a6.8 6.8 0 1 0 -13.6 0M896.6 1990.2a6.8 6.8 0 1 0 13.6 0a6.8 6.8 0 1 0 -13.6 0M899.5 1978.0a6.8 6.8 0 1 0 13.6 0a6.8 6.8 0 1 0 -13.6 0M902.9 1962.9a6.8 6.8 0 1 0 13.6 0a6.8 6.8 0 1 0 -13.6 0M905.5 1976.1a6.8 6.8 0 1 0 13.6 0a6.8 6.8 0 1 0 -13.6 0" fill="none" stroke="#8a8a8a" stroke-width="0.9"/>
<path d="M153.8 1914.9l10.3 -33.0M156.3 1914.9l8.7 -31.7M158.8 1914.9l10.7 -41.7M161.3 1914.9l9.8 -40.8M163.9 1914.9l8.6 -45.1M166.4 1914.9l11.6 -51.5M168.9 1914.9l9.2 -46.4M171.4 1914.9l11.7 -52.3M173.9 1914.9l8.5 -58.6M176.4 1914.9l7.8 -65.4M179.0 1914.9l11.2 -58.1M181.5 1914.9l8.6 -55.5M184.0 1914.9l9.1 -52.2M186.5 1914.9l9.6 -65.3M189.0 1914.9l6.5 -70.0M191.5 1914.9l7.4 -69.0M194.1 1914.9l5.2 -68.4M196.6 1914.9l9.8 -69.5M199.1 1914.9l6.8 -62.4M201.6 1914.9l6.3 -55.7M204.1 1914.9l10.0 -66.5M206.6 1914.9l4.5 -70.5M209.2 1914.9l6.8 -62.8M211.7 1914.9l4.4 -57.8M214.2 1914.9l1.7 -62.1M216.7 1914.9l6.1 -57.6M219.2 1914.9l2.8 -54.3M221.7 1914.9l7.3 -58.6M224.3 1914.9l3.8 -53.9M226.8 1914.9l7.4 -61.8M229.3 1914.9l7.3 -61.6M231.8 1914.9l3.1 -47.8M234.3 1914.9l5.9 -48.9M236.8 1914.9l1.8 -58.2M239.4 1914.9l1.0 -46.8M241.9 1914.9l2.4 -41.3M244.4 1914.9l6.0 -25.3M246.9 1914.9l7.4 -22.7M249.4 1914.9l10.6 -33.8M251.9 1914.9l14.9 -49.7M254.5 1914.9l14.5 -53.8M257.0 1914.9l11.7 -64.1M259.5 1914.9l19.3 -72.3M262.0 1914.9l21.2 -74.6M264.5 1914.9l16.9 -68.8M267.0 1914.9l17.6 -71.0M269.6 1914.9l12.8 -77.2M272.1 1914.9l14.3 -82.0M274.6 1914.9l13.1 -80.1M277.1 1914.9l11.6 -62.4M279.6 1914.9l12.3 -54.7M282.1 1914.9l15.5 -51.5M284.7 1914.9l13.4 -61.3M287.2 1914.9l14.2 -54.5M289.7 1914.9l18.6 -63.0M292.2 1914.9l28.3 -67.2M294.7 1914.9l21.7 -60.3M297.2 1914.9l17.1 -52.3M299.8 1914.9l20.4 -52.3M302.3 1914.9l23.1 -57.4M304.8 1914.9l24.7 -43.1M307.3 1914.9l26.7 -51.6M309.8 1914.9l24.1 -49.9M312.3 1914.9l26.7 -44.0M314.9 1914.9l23.7 -44.4M317.4 1914.9l15.7 -34.3M319.9 1914.9l14.9 -28.2M322.4 1914.9l14.7 -25.3M324.9 1914.9l11.5 -16.3M327.4 1914.9l0.4 31.5M330.0 1914.9l2.1 38.3M332.5 1914.9l5.8 42.6M335.0 1914.9l10.2 38.7M337.5 1914.9l16.6 40.6M340.0 1914.9l17.2 38.3M342.5 1914.9l17.9 41.3M345.0 1914.9l24.8 48.4M347.6 1914.9l22.6 47.2M350.1 1914.9l26.6 42.1M352.6 1914.9l22.8 32.1M355.1 1914.9l24.0 32.6M357.6 1914.9l24.6 38.3M360.1 1914.9l26.0 33.0M362.7 1914.9l21.8 26.7M365.2 1914.9l17.3 18.1M367.7 1914.9l20.1 19.3M370.2 1914.9l8.2 -6.7M372.7 1914.9l9.5 -12.8M375.2 1914.9l12.2 -19.0M377.8 1914.9l15.3 -27.2M380.3 1914.9l12.9 -19.4M382.8 1914.9l10.2 -18.2M385.3 1914.9l7.1 -13.3M387.8 1914.9l8.3 -14.9M390.3 1914.9l5.3 -11.5M392.9 1914.9l5.1 -14.2M395.4 1914.9l3.0 -11.7M397.9 1914.9l-0.8 -23.1M400.4 1914.9l-1.2 -47.0M402.9 1914.9l1.2 -45.3M405.4 1914.9l0.3 -43.0M408.0 1914.9l-4.5 -42.6M410.5 1914.9l-4.9 -29.8M413.0 1914.9l-5.4 -23.8M415.5 1914.9l-6.9 -18.3M418.0 1914.9l-6.8 -14.5M420.5 1914.9l-8.1 -14.4M423.1 1914.9l-3.2 -25.2M425.6 1914.9l-1.9 -31.7M428.1 1914.9l-4.5 -39.4M430.6 1914.9l-8.6 -45.7M433.1 1914.9l-9.3 -49.3M435.6 1914.9l-6.1 -47.7M438.2 1914.9l-9.2 -52.5M440.7 1914.9l-11.0 -64.0M443.2 1914.9l-10.8 -59.5M445.7 1914.9l-10.2 -66.2M448.2 1914.9l-11.2 -60.0M450.7 1914.9l-14.7 -66.6M453.3 1914.9l-15.7 -82.6M455.8 1914.9l-13.1 -84.4M458.3 1914.9l-18.8 -98.9M460.8 1914.9l-17.3 -96.3M463.3 1914.9l-15.1 -95.2M465.8 1914.9l-17.0 -94.5M468.4 1914.9l-13.0 -93.8M470.9 1914.9l-15.1 -97.1M473.4 1914.9l-23.3 -99.0M475.9 1914.9l-13.0 -88.2M478.4 1914.9l-22.3 -90.9M480.9 1914.9l-15.5 -75.6M483.5 1914.9l-17.1 -74.7M486.0 1914.9l-13.2 -74.6M488.5 1914.9l-13.8 -90.1M491.0 1914.9l-13.0 -72.3M493.5 1914.9l-19.7 -76.8M496.0 1914.9l-12.2 -76.9M498.6 1914.9l-11.2 -59.7M501.1 1914.9l-16.1 -57.7M503.6 1914.9l-17.0 -64.6M506.1 1914.9l-16.7 -48.6M508.6 1914.9l-20.1 -51.5M511.1 1914.9l-19.8 -45.5M513.7 1914.9l-26.4 -50.2M516.2 1914.9l-24.4 -48.2M518.7 1914.9l-22.6 -40.1M521.2 1914.9l-29.2 -44.3M523.7 1914.9l-27.1 -32.3M526.2 1914.9l-38.2 -33.0M528.8 1914.9l-32.0 -29.6M531.3 1914.9l-27.7 -35.9M533.8 1914.9l-30.9 -38.6M536.3 1914.9l-26.4 -44.3M538.8 1914.9l-31.8 -46.6M541.3 1914.9l-23.3 -37.8M543.8 1914.9l-27.5 -38.8M546.4 1914.9l-27.9 -28.2M548.9 1914.9l-33.6 -30.9M551.4 1914.9l-27.9 -25.3M553.9 1914.9l-34.7 -27.7M556.4 1914.9l-29.8 -22.3M558.9 1914.9l-27.0 -20.0M561.5 1914.9l-28.6 -18.3M564.0 1914.9l-26.7 -20.9M566.5 1914.9l-25.6 -17.6M569.0 1914.9l-27.2 -20.1M571.5 1914.9l-24.9 -18.2M574.0 1914.9l-25.0 -18.6M576.6 1914.9l-23.8 -16.8M579.1 1914.9l-23.6 -14.9M581.6 1914.9l-20.9 -12.2M584.1 1914.9l-53.0 8.4M586.6 1914.9l-47.8 9.3M589.1 1914.9l-38.7 13.0M591.7 1914.9l-18.9 16.4M594.2 1914.9l-20.4 25.6M596.7 1914.9l-21.6 28.4M599.2 1914.9l-21.2 27.4M601.7 1914.9l-18.8 28.2M604.2 1914.9l-21.3 30.2M606.8 1914.9l-18.1 28.6M609.3 1914.9l-18.5 32.9M611.8 1914.9l-14.7 30.0M614.3 1914.9l-11.2 25.9M616.8 1914.9l-12.2 24.2M619.3 1914.9l-20.0 -8.9M621.9 1914.9l-21.6 -29.4M624.4 1914.9l-26.7 -41.2M626.9 1914.9l-22.0 -38.7M629.4 1914.9l-15.5 -47.2M631.9 1914.9l-13.2 -49.7M634.4 1914.9l-9.5 -55.7M637.0 1914.9l-14.0 -71.3M639.5 1914.9l-7.6 -62.5M642.0 1914.9l-11.7 -66.7M644.5 1914.9l-10.2 -63.4M647.0 1914.9l-10.3 -76.4M649.5 1914.9l-8.9 -69.8M652.1 1914.9l-9.5 -62.7M654.6 1914.9l-8.0 -61.7M657.1 1914.9l-9.7 -57.0M659.6 1914.9l-8.1 -58.4M662.1 1914.9l-6.1 -59.5M664.6 1914.9l-5.1 -58.1M667.2 1914.9l-3.5 -54.3M669.7 1914.9l-6.4 -47.0M672.2 1914.9l-8.5 -51.8M674.7 1914.9l-4.3 -40.6M677.2 1914.9l-2.4 -26.6M679.7 1914.9l-3.4 -28.0M682.3 1914.9l-2.4 -22.8M684.8 1914.9l-2.6 -16.5M687.3 1914.9l-2.6 -17.7M689.8 1914.9l-3.3 -18.4M692.3 1914.9l-2.9 -18.8M694.8 1914.9l-3.4 -20.8M697.4 1914.9l-4.3 -18.3M699.9 1914.9l-3.1 -17.2M702.4 1914.9l-1.9 -16.6M704.9 1914.9l-3.0 -19.0M707.4 1914.9l-3.3 -19.3M709.9 1914.9l-5.9 -15.8M712.5 1914.9l-6.6 -14.4M715.0 1914.9l-7.4 -11.2M717.5 1914.9l-4.8 19.7M720.0 1914.9l-5.9 21.4M722.5 1914.9l-6.1 20.6M725.0 1914.9l-8.7 26.5M727.5 1914.9l-12.7 24.3M730.1 1914.9l-11.8 22.4M732.6 1914.9l-13.7 21.1M735.1 1914.9l-15.9 22.1M737.6 1914.9l-16.0 21.1M740.1 1914.9l-16.4 16.6M742.6 1914.9l-21.9 18.2M745.2 1914.9l-21.9 17.4M747.7 1914.9l-20.7 13.7M750.2 1914.9l-26.4 14.3M752.7 1914.9l-26.5 14.7M755.2 1914.9l-25.3 14.7M757.7 1914.9l-22.7 18.6M760.3 1914.9l-23.7 23.8M762.8 1914.9l-23.7 24.2M765.3 1914.9l-14.6 21.4M767.8 1914.9l-16.8 28.9M770.3 1914.9l-10.3 30.0M772.8 1914.9l-12.7 30.0M775.4 1914.9l-12.1 33.3M777.9 1914.9l-12.3 35.5M780.4 1914.9l-14.1 48.7M782.9 1914.9l-16.3 48.9M785.4 1914.9l-17.7 50.2M787.9 1914.9l-15.8 42.3M790.5 1914.9l-11.4 47.0M793.0 1914.9l-11.4 40.1M795.5 1914.9l-11.3 45.7M798.0 1914.9l-9.8 40.9M800.5 1914.9l-12.1 41.6M803.0 1914.9l-9.9 36.5M805.6 1914.9l-8.3 45.5M808.1 1914.9l-10.8 42.7M810.6 1914.9l-7.8 39.4M813.1 1914.9l-6.5 29.7M815.6 1914.9l-7.5 27.8M818.1 1914.9l-5.2 17.9M820.7 1914.9l-1.5 -12.1M823.2 1914.9l-0.5 -15.8M825.7 1914.9l-0.8 -24.6M828.2 1914.9l-4.2 -27.7M830.7 1914.9l-6.5 -35.0M833.2 1914.9l-4.6 -42.9M835.8 1914.9l-7.9 -59.1M838.3 1914.9l-8.3 -57.1M840.8 1914.9l-13.4 -62.3M843.3 1914.9l-17.8 -57.9M845.8 1914.9l-16.7 -58.1M848.3 1914.9l-16.9 -57.6M850.9 1914.9l-18.3 -46.5M853.4 1914.9l-21.1 -52.0M855.9 1914.9l-16.1 -43.2M858.4 1914.9l-11.5 -38.2M860.9 1914.9l-12.3 -39.1M863.4 1914.9l-8.5 -33.1M866.0 1914.9l-6.1 -31.1M868.5 1914.9l-5.7 -26.8M871.0 1914.9l-3.0 -26.7M873.5 1914.9l-5.7 -40.9M876.0 1914.9l-1.6 -50.9M878.5 1914.9l-6.1 -39.9M881.1 1914.9l-7.3 -40.1M883.6 1914.9l-9.1 -45.3M886.1 1914.9l-8.5 -44.3M888.6 1914.9l-6.0 -48.9M891.1 1914.9l-9.1 -49.3M893.6 1914.9l-6.8 -42.2M896.2 1914.9l-8.4 -50.3M898.7 1914.9l-8.9 -51.5M901.2 1914.9l-13.0 -59.5M903.7 1914.9l-9.8 -69.8M906.2 1914.9l-16.2 -90.2M908.7 1914.9l-12.9 -74.1M911.3 1914.9l-10.9 -70.6" fill="none" stroke="#000" stroke-width="1.2" stroke-linecap="butt"/>
<polyline points="153.8,2004.8 157.5,2009.5 161.3,2006.7 165.0,1996.4 169.8,1988.8 175.4,2001.1 178.2,1990.7 182.0,2001.1 184.8,2002.0 189.5,1997.3 192.3,1982.3 195.2,1981.3 198.0,1997.3 200.8,1992.6 205.5,1986.0 209.3,1959.7 213.0,1975.7 216.8,2005.8 219.6,1992.6 222.4,1987.0" fill="none" stroke="#000" stroke-width="1.6" stroke-linejoin="miter"/>
<polyline points="227.1,1991.7 230.9,2001.1 233.7,2002.0 238.4,1965.3 242.2,1975.7 246.9,2004.8 249.7,1998.3 253.5,1966.3 258.2,1952.2 262.0,1959.7 263.8,1959.7 266.6,1980.4 268.5,1981.3 271.4,1965.3 274.2,1980.4 277.0,1968.1 279.8,1975.7 285.1,1951.2 289.2,1975.7 293.0,1968.1 295.8,1984.1 299.6,1987.0 302.0,1993.5 307.1,1951.2" fill="none" stroke="#000" stroke-width="1.6" stroke-linejoin="miter"/>
<polyline points="312.7,1976.6 315.6,1976.6 323.1,1998.3 325.9,1977.6 327.8,1977.6 331.6,1958.7 334.4,1963.4 340.0,2006.7 342.8,1992.1 345.6,1996.8 348.5,1996.8 353.2,1975.2 358.8,1981.7 364.5,1977.0 367.3,1999.6 370.1,1993.0 374.8,2007.1 378.6,2010.0 381.4,2007.1 385.2,2009.0 389.9,2011.3 392.7,2008.1" fill="none" stroke="#000" stroke-width="1.6" stroke-linejoin="miter"/>
<polyline points="397.4,2006.2 400.2,2002.4 403.0,1972.9 405.9,1978.0 411.5,2007.1 414.3,1994.0 417.1,2000.6 419.0,2001.5" fill="none" stroke="#000" stroke-width="1.6" stroke-linejoin="miter"/>
<polyline points="424.7,2004.9 427.5,2004.3 432.2,2000.6 437.8,1995.9 441.6,1994.9 444.4,1980.8 447.2,1990.2" fill="none" stroke="#000" stroke-width="1.6" stroke-linejoin="miter"/>
<polyline points="452.0,1985.5 454.8,1958.2 458.2,1978.9 463.2,1943.2 466.1,1981.7 468.9,1974.2" fill="none" stroke="#000" stroke-width="1.6" stroke-linejoin="miter"/>
<polyline points="474.5,1957.3 477.3,1953.5 480.2,1959.2 483.0,1956.3 484.9,1970.5 487.7,1955.4 490.5,1977.0 493.3,1952.6 496.2,1976.1" fill="none" stroke="#000" stroke-width="1.6" stroke-linejoin="miter"/>
<polyline points="501.8,1990.2 504.6,1978.0 507.5,2007.1 510.3,1988.3 512.2,1981.7 515.0,1980.8 518.7,1961.0 521.0,1961.0 523.4,1973.3" fill="none" stroke="#000" stroke-width="1.6" stroke-linejoin="miter"/>
<polyline points="529.1,1953.5 531.9,1955.4 534.7,1945.1 537.5,1975.2 540.0,1977.5 542.8,1979.9 545.6,1977.0 548.5,1986.4 553.2,1982.7" fill="none" stroke="#000" stroke-width="1.6" stroke-linejoin="miter"/>
<polyline points="558.8,1974.2 561.6,1946.0 564.5,1962.9 567.3,1981.7 569.7,1966.7 572.9,1988.3 575.7,1994.0 578.6,1986.4 581.0,1992.1" fill="none" stroke="#000" stroke-width="1.6" stroke-linejoin="miter"/>
<polyline points="586.1,1996.8 588.9,2003.4 591.7,1997.7 594.6,1998.7 597.4,2000.6 600.2,1992.1 603.0,1977.0 604.9,1986.4 608.1,1987.4" fill="none" stroke="#000" stroke-width="1.6" stroke-linejoin="miter"/>
<polyline points="614.3,1986.4 616.8,1992.1 620.0,1980.8 622.8,1976.1 626.5,1976.1 630.3,1952.6 633.1,1965.7 636.0,1964.8" fill="none" stroke="#000" stroke-width="1.6" stroke-linejoin="miter"/>
<polyline points="641.6,1969.5 643.5,1974.2 646.3,1963.9 648.7,1975.2 651.0,1974.2 653.8,1978.9 657.6,1964.8 660.4,1982.7 663.2,1986.4" fill="none" stroke="#000" stroke-width="1.6" stroke-linejoin="miter"/>
<polyline points="667.9,2003.4 671.7,2007.1 675.5,2010.0 679.2,2007.1 683.0,2008.1 686.8,2006.2 690.5,2005.3" fill="none" stroke="#000" stroke-width="1.6" stroke-linejoin="miter"/>
<polyline points="696.2,2010.9 699.9,2010.0 705.6,2008.1 711.2,2007.5 716.9,2005.3 720.2,2008.1" fill="none" stroke="#000" stroke-width="1.6" stroke-linejoin="miter"/>
<polyline points="725.6,2009.0 731.3,2008.1 734.1,2007.1 736.9,2002.4 739.8,2004.3 743.5,2003.4 748.2,2002.4" fill="none" stroke="#000" stroke-width="1.6" stroke-linejoin="miter"/>
<polyline points="753.5,1999.6 756.7,2003.4 759.5,2006.2 763.3,2005.3 767.0,2007.1 770.8,2005.3 775.5,2006.2" fill="none" stroke="#000" stroke-width="1.6" stroke-linejoin="miter"/>
<polyline points="780.2,1986.4 784.0,1984.6 788.7,1995.9 791.5,1986.4 795.3,1979.9 798.1,1982.7 800.9,1987.4 802.8,1978.0" fill="none" stroke="#000" stroke-width="1.6" stroke-linejoin="miter"/>
<polyline points="808.4,1987.4 811.3,1986.4 813.1,1994.9 816.0,1997.7 818.8,1997.7 822.5,2005.3 827.2,2010.0 831.0,2005.3 834.8,2004.3 838.2,2001.5 841.9,1983.6 844.2,1983.6 847.0,1988.3 849.8,1980.8 854.5,1975.2 857.3,1980.8 860.7,1991.1 863.9,1990.2 868.6,2001.5 870.5,2004.3 874.3,2007.1 877.1,2001.5 879.9,2004.3 882.7,2003.4 885.6,1996.8 887.5,1987.4" fill="none" stroke="#000" stroke-width="1.6" stroke-linejoin="miter"/>
<polyline points="893.1,1991.1 895.9,1999.6 898.7,1990.2 903.4,1990.2 906.3,1978.0 909.7,1962.9 912.3,1976.1" fill="none" stroke="#000" stroke-width="1.6" stroke-linejoin="miter"/>
<line x1="588.20" y1="1790.60" x2="636.80" y2="1790.60" stroke="#000" stroke-width="1.1" />
<text x="649.10" y="1798.20" font-family='"Liberation Serif", serif' font-size="22" text-anchor="start" font-weight="normal" textLength="239" lengthAdjust="spacingAndGlyphs">Current speed and direction</text>
<line x1="587.90" y1="1818.30" x2="637.50" y2="1818.30" stroke="#000" stroke-width="1.6" />
<circle cx="612.5" cy="1818.3" r="6.5" fill="none" stroke="#8a8a8a" stroke-width="0.9"/>
<text x="649.90" y="1825.60" font-family='"Liberation Serif", serif' font-size="22" text-anchor="start" font-weight="normal" >Tilt</text>
<text transform="translate(22.60,1900.00) rotate(-90)" font-family='"Liberation Serif", serif' font-size="30" text-anchor="middle" >Current speed</text>
<text transform="translate(61.00,1897.80) rotate(-90)" font-family='"Liberation Serif", serif' font-size="30" text-anchor="middle" >(cm sec<tspan dy="-15.5" font-size="19">-1</tspan><tspan dy="15.5">)</tspan></text>
<text transform="translate(1002.30,1896.00) rotate(-90)" font-family='"Liberation Serif", serif' font-size="30" text-anchor="middle" >Tilt (degree)</text>
<text x="185.60" y="1810.60" font-family='"Liberation Sans", sans-serif' font-size="29.5" text-anchor="start" font-weight="bold" >E</text>
<text x="193.80" y="2070.20" font-family='"Liberation Sans", sans-serif' font-size="26.5" text-anchor="middle" font-weight="normal" >Nov.</text>
<text x="267.90" y="2070.20" font-family='"Liberation Sans", sans-serif' font-size="26.5" text-anchor="middle" font-weight="normal" >Dec.</text>
<text x="342.00" y="2070.20" font-family='"Liberation Sans", sans-serif' font-size="26.5" text-anchor="middle" font-weight="normal" >Jan.</text>
<text x="419.00" y="2070.20" font-family='"Liberation Sans", sans-serif' font-size="26.5" text-anchor="middle" font-weight="normal" >Feb.</text>
<text x="500.50" y="2070.20" font-family='"Liberation Sans", sans-serif' font-size="26.5" text-anchor="middle" font-weight="normal" >Mar.</text>
<text x="584.60" y="2070.20" font-family='"Liberation Sans", sans-serif' font-size="26.5" text-anchor="middle" font-weight="normal" >Apr.</text>
<text x="665.80" y="2070.20" font-family='"Liberation Sans", sans-serif' font-size="26.5" text-anchor="middle" font-weight="normal" >May</text>
<text x="743.80" y="2070.20" font-family='"Liberation Sans", sans-serif' font-size="26.5" text-anchor="middle" font-weight="normal" >Jun.</text>
<text x="819.60" y="2070.20" font-family='"Liberation Sans", sans-serif' font-size="26.5" text-anchor="middle" font-weight="normal" >Jul.</text>
<text x="882.00" y="2070.20" font-family='"Liberation Sans", sans-serif' font-size="26.5" text-anchor="middle" font-weight="normal" >Aug.</text>
<rect x="151.8" y="2081.6" width="766.8" height="42.8" fill="none" stroke="#000" stroke-width="1.3"/>
<text x="248.00" y="2112.60" font-family='"Liberation Sans", sans-serif' font-size="26" text-anchor="middle" font-weight="normal" >2017</text>
<text x="602.30" y="2112.60" font-family='"Liberation Sans", sans-serif' font-size="26" text-anchor="middle" font-weight="normal" >2018</text>
</svg>
</body></html>
